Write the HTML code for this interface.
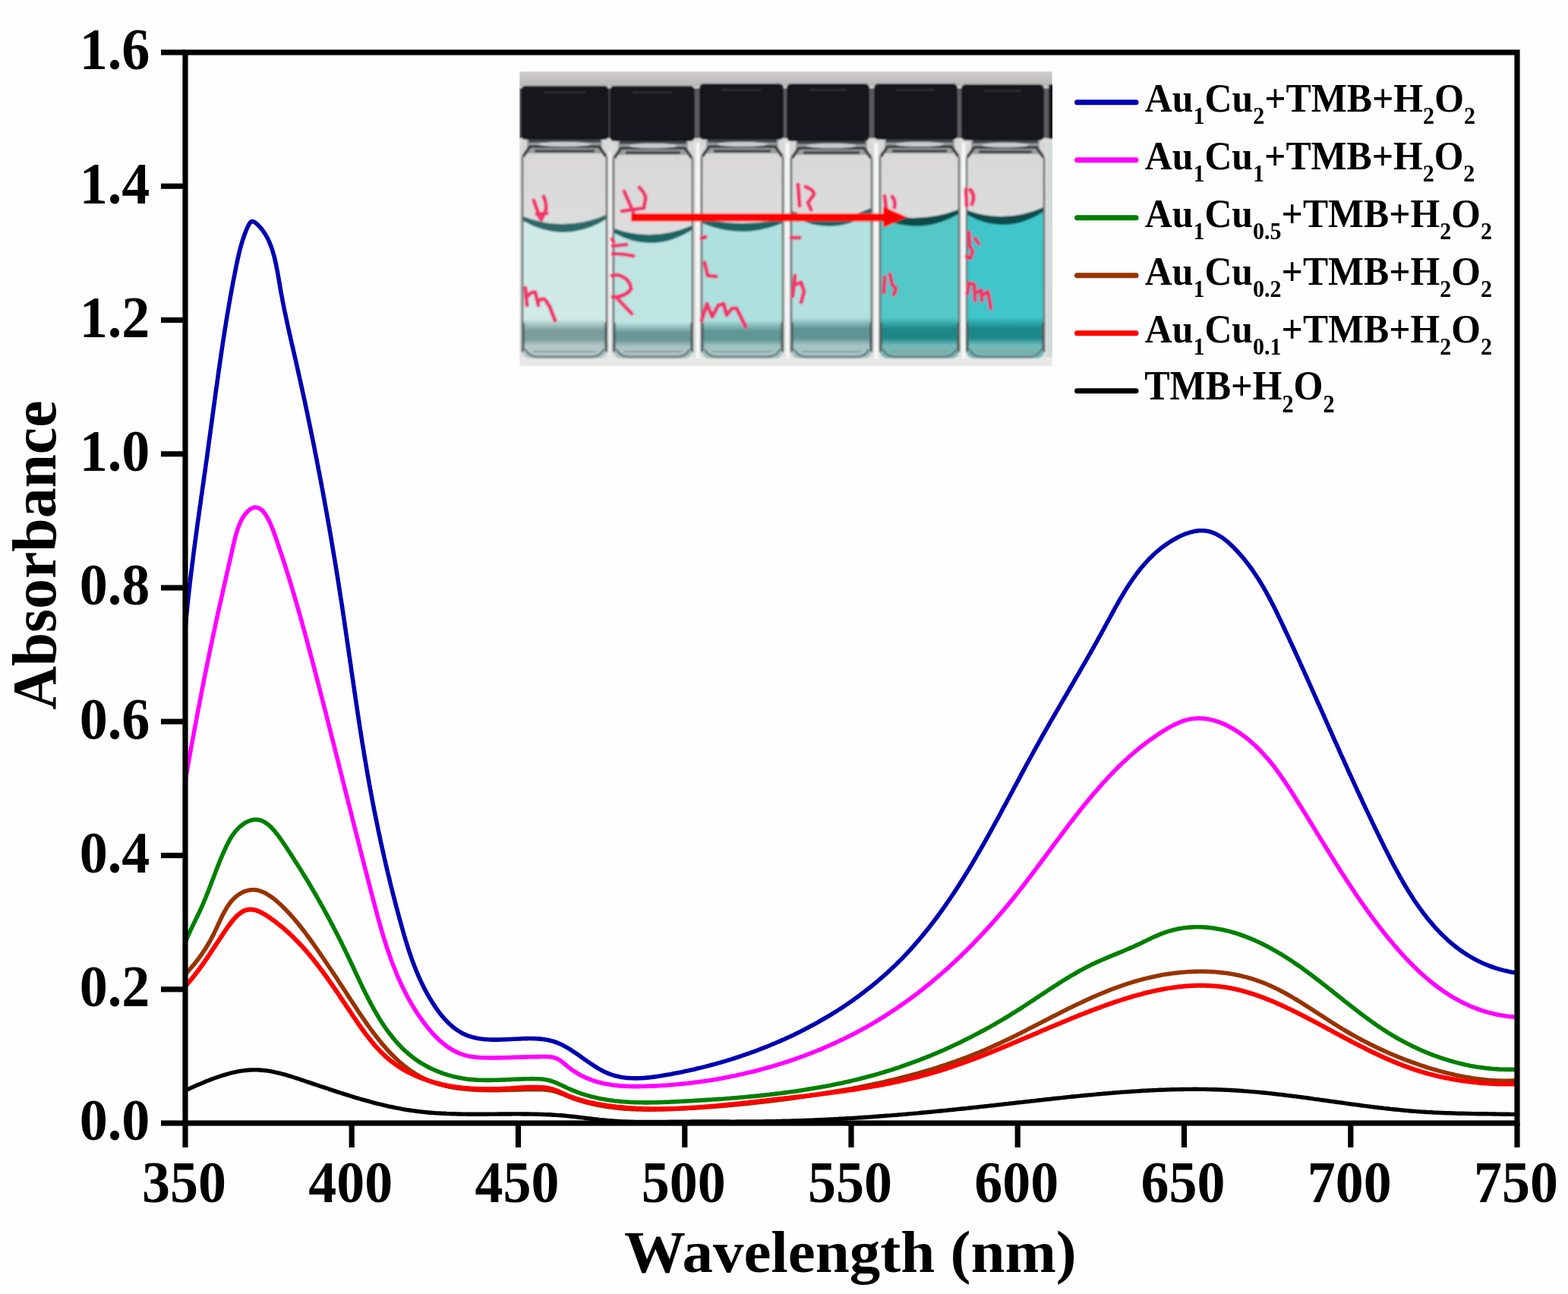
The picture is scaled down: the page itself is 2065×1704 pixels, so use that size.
<!DOCTYPE html><html><head><meta charset="utf-8"><title>Absorbance spectra</title>
<style>html,body{margin:0;padding:0;background:#fefefe;overflow:hidden}svg{display:block}text{font-family:"Liberation Serif","Times New Roman",serif;font-weight:bold;fill:#000}</style></head><body>
<svg width="2065" height="1704" viewBox="0 0 2065 1704">
<defs><filter id="soft" x="-2%" y="-2%" width="104%" height="104%"><feGaussianBlur stdDeviation="1.1"/></filter><filter id="soft2" x="-5%" y="-5%" width="110%" height="110%"><feGaussianBlur stdDeviation="2.2"/></filter><clipPath id="photoclip"><rect x="684" y="94" width="702" height="388"/></clipPath></defs>
<rect x="0" y="0" width="2065" height="1704" fill="#fefefe"/>
<defs>
<linearGradient id="lq0" x1="0" y1="0" x2="0" y2="1"><stop offset="0" stop-color="#d0eae8"/><stop offset="0.72" stop-color="#d0eae8"/><stop offset="0.80" stop-color="#7c9e9e"/><stop offset="0.86" stop-color="#7c9e9e"/><stop offset="0.91" stop-color="#b4c9c7"/><stop offset="1" stop-color="#b4c9c7"/></linearGradient>
<linearGradient id="lq1" x1="0" y1="0" x2="0" y2="1"><stop offset="0" stop-color="#bfe5e3"/><stop offset="0.72" stop-color="#bfe5e3"/><stop offset="0.80" stop-color="#6b9898"/><stop offset="0.86" stop-color="#6b9898"/><stop offset="0.91" stop-color="#aac5c3"/><stop offset="1" stop-color="#aac5c3"/></linearGradient>
<linearGradient id="lq2" x1="0" y1="0" x2="0" y2="1"><stop offset="0" stop-color="#aee0df"/><stop offset="0.72" stop-color="#aee0df"/><stop offset="0.80" stop-color="#5f9696"/><stop offset="0.86" stop-color="#5f9696"/><stop offset="0.91" stop-color="#a2c4c2"/><stop offset="1" stop-color="#a2c4c2"/></linearGradient>
<linearGradient id="lq3" x1="0" y1="0" x2="0" y2="1"><stop offset="0" stop-color="#b2e1e0"/><stop offset="0.72" stop-color="#b2e1e0"/><stop offset="0.80" stop-color="#5e9494"/><stop offset="0.86" stop-color="#5e9494"/><stop offset="0.91" stop-color="#a4c5c4"/><stop offset="1" stop-color="#a4c5c4"/></linearGradient>
<linearGradient id="lq4" x1="0" y1="0" x2="0" y2="1"><stop offset="0" stop-color="#52c8c7"/><stop offset="0.72" stop-color="#52c8c7"/><stop offset="0.80" stop-color="#1c8686"/><stop offset="0.86" stop-color="#1c8686"/><stop offset="0.91" stop-color="#74b8b7"/><stop offset="1" stop-color="#74b8b7"/></linearGradient>
<linearGradient id="lq5" x1="0" y1="0" x2="0" y2="1"><stop offset="0" stop-color="#40c6ca"/><stop offset="0.72" stop-color="#40c6ca"/><stop offset="0.80" stop-color="#1b888b"/><stop offset="0.86" stop-color="#1b888b"/><stop offset="0.91" stop-color="#70baba"/><stop offset="1" stop-color="#70baba"/></linearGradient>
<linearGradient id="air" x1="0" y1="0" x2="0" y2="1"><stop offset="0" stop-color="#d8d7d7"/><stop offset="1" stop-color="#e6e5e5"/></linearGradient>
<linearGradient id="topband" x1="0" y1="0" x2="0" y2="1"><stop offset="0" stop-color="#cfcdce"/><stop offset="1" stop-color="#b8b5b7"/></linearGradient>
</defs>
<g clip-path="url(#photoclip)"><g filter="url(#soft)">
<rect x="684" y="94" width="702" height="389" fill="#dddcdc"/>
<rect x="684" y="94" width="702" height="20" fill="url(#topband)"/>
<rect x="684" y="470" width="702" height="13" fill="#e8e8e6"/>
<rect x="684" y="116" width="702" height="66" fill="#5a5b5d"/>
<rect x="686" y="184" width="115" height="288" rx="8" fill="url(#air)"/>
<rect x="694" y="184" width="99" height="18" fill="#9a9e9e"/>
<rect x="696" y="184" width="95" height="4" fill="#43484a"/>
<path d="M689,206 L698,193 L789,193 L798,206" stroke="#3a4040" stroke-width="4" fill="none" stroke-linejoin="round"/>
<ellipse cx="743.5" cy="190" rx="35" ry="3.2" fill="#d0d4d4" opacity="0.9"/>
<rect x="704" y="197" width="79" height="4" fill="#2f3636" opacity="0.85"/>
<path d="M688,289 Q743.5,312 799,287 L799,462 Q799,472 787,472 L700,472 Q688,472 688,462 Z" fill="url(#lq0)"/>
<path d="M689,285 Q743.5,306 798,283 L798,289 Q743.5,322 689,291 Z" fill="#2a6a69"/>
<path d="M692,460 Q696,470 710,470 L777,470 Q791,470 795,460" stroke="#6f7f7f" stroke-width="3" fill="none"/>
<path d="M702,463 L785,463" stroke="#8b9b9b" stroke-width="2" fill="none"/>
<line x1="688" y1="206" x2="688" y2="464" stroke="#6a7070" stroke-width="2.6"/>
<line x1="799" y1="206" x2="799" y2="464" stroke="#6a7070" stroke-width="2.6"/>
<line x1="689" y1="425" x2="689" y2="462" stroke="#4c5858" stroke-width="4" opacity="0.7"/>
<line x1="798" y1="425" x2="798" y2="462" stroke="#4c5858" stroke-width="4" opacity="0.7"/>
<rect x="686" y="113" width="116" height="71" rx="6" fill="#18191b"/>
<rect x="716" y="120" width="56" height="3" fill="#2c2e30"/>
<rect x="806" y="186" width="108" height="286" rx="8" fill="url(#air)"/>
<rect x="814" y="186" width="92" height="18" fill="#9a9e9e"/>
<rect x="816" y="186" width="88" height="4" fill="#43484a"/>
<path d="M809,208 L818,195 L902,195 L911,208" stroke="#3a4040" stroke-width="4" fill="none" stroke-linejoin="round"/>
<ellipse cx="860.0" cy="192" rx="32" ry="3.2" fill="#d0d4d4" opacity="0.9"/>
<rect x="824" y="199" width="72" height="4" fill="#2f3636" opacity="0.85"/>
<path d="M808,305 Q860.0,325 912,301 L912,462 Q912,472 900,472 L820,472 Q808,472 808,462 Z" fill="url(#lq1)"/>
<path d="M809,301 Q860.0,319 911,297 L911,303 Q860.0,335 809,307 Z" fill="#1d6565"/>
<path d="M812,460 Q816,470 830,470 L890,470 Q904,470 908,460" stroke="#6f7f7f" stroke-width="3" fill="none"/>
<path d="M822,463 L898,463" stroke="#8b9b9b" stroke-width="2" fill="none"/>
<line x1="808" y1="208" x2="808" y2="464" stroke="#6a7070" stroke-width="2.6"/>
<line x1="912" y1="208" x2="912" y2="464" stroke="#6a7070" stroke-width="2.6"/>
<line x1="809" y1="425" x2="809" y2="462" stroke="#4c5858" stroke-width="4" opacity="0.7"/>
<line x1="911" y1="425" x2="911" y2="462" stroke="#4c5858" stroke-width="4" opacity="0.7"/>
<rect x="803" y="113" width="112" height="73" rx="6" fill="#18191b"/>
<rect x="833" y="120" width="52" height="3" fill="#2c2e30"/>
<rect x="922" y="184" width="111" height="288" rx="8" fill="url(#air)"/>
<rect x="930" y="184" width="95" height="18" fill="#9a9e9e"/>
<rect x="932" y="184" width="91" height="4" fill="#43484a"/>
<path d="M925,206 L934,193 L1021,193 L1030,206" stroke="#3a4040" stroke-width="4" fill="none" stroke-linejoin="round"/>
<ellipse cx="977.5" cy="190" rx="33" ry="3.2" fill="#d0d4d4" opacity="0.9"/>
<rect x="940" y="197" width="75" height="4" fill="#2f3636" opacity="0.85"/>
<path d="M924,292 Q977.5,306 1031,292 L1031,462 Q1031,472 1019,472 L936,472 Q924,472 924,462 Z" fill="url(#lq2)"/>
<path d="M925,288 Q977.5,300 1030,288 L1030,294 Q977.5,316 925,294 Z" fill="#1d6464"/>
<path d="M928,460 Q932,470 946,470 L1009,470 Q1023,470 1027,460" stroke="#6f7f7f" stroke-width="3" fill="none"/>
<path d="M938,463 L1017,463" stroke="#8b9b9b" stroke-width="2" fill="none"/>
<line x1="924" y1="206" x2="924" y2="464" stroke="#6a7070" stroke-width="2.6"/>
<line x1="1031" y1="206" x2="1031" y2="464" stroke="#6a7070" stroke-width="2.6"/>
<line x1="925" y1="425" x2="925" y2="462" stroke="#4c5858" stroke-width="4" opacity="0.7"/>
<line x1="1030" y1="425" x2="1030" y2="462" stroke="#4c5858" stroke-width="4" opacity="0.7"/>
<rect x="921" y="110" width="111" height="74" rx="6" fill="#18191b"/>
<rect x="951" y="117" width="51" height="3" fill="#2c2e30"/>
<rect x="1040" y="186" width="110" height="286" rx="8" fill="url(#air)"/>
<rect x="1048" y="186" width="94" height="18" fill="#9a9e9e"/>
<rect x="1050" y="186" width="90" height="4" fill="#43484a"/>
<path d="M1043,208 L1052,195 L1138,195 L1147,208" stroke="#3a4040" stroke-width="4" fill="none" stroke-linejoin="round"/>
<ellipse cx="1095.0" cy="192" rx="33" ry="3.2" fill="#d0d4d4" opacity="0.9"/>
<rect x="1058" y="199" width="74" height="4" fill="#2f3636" opacity="0.85"/>
<path d="M1042,282 Q1095.0,304 1148,278 L1148,462 Q1148,472 1136,472 L1054,472 Q1042,472 1042,462 Z" fill="url(#lq3)"/>
<path d="M1043,278 Q1095.0,298 1147,274 L1147,280 Q1095.0,314 1043,284 Z" fill="#1c6363"/>
<path d="M1046,460 Q1050,470 1064,470 L1126,470 Q1140,470 1144,460" stroke="#6f7f7f" stroke-width="3" fill="none"/>
<path d="M1056,463 L1134,463" stroke="#8b9b9b" stroke-width="2" fill="none"/>
<line x1="1042" y1="208" x2="1042" y2="464" stroke="#6a7070" stroke-width="2.6"/>
<line x1="1148" y1="208" x2="1148" y2="464" stroke="#6a7070" stroke-width="2.6"/>
<line x1="1043" y1="425" x2="1043" y2="462" stroke="#4c5858" stroke-width="4" opacity="0.7"/>
<line x1="1147" y1="425" x2="1147" y2="462" stroke="#4c5858" stroke-width="4" opacity="0.7"/>
<rect x="1036" y="110" width="109" height="76" rx="6" fill="#18191b"/>
<rect x="1066" y="117" width="49" height="3" fill="#2c2e30"/>
<rect x="1157" y="184" width="108" height="288" rx="8" fill="url(#air)"/>
<rect x="1165" y="184" width="92" height="18" fill="#9a9e9e"/>
<rect x="1167" y="184" width="88" height="4" fill="#43484a"/>
<path d="M1160,206 L1169,193 L1253,193 L1262,206" stroke="#3a4040" stroke-width="4" fill="none" stroke-linejoin="round"/>
<ellipse cx="1211.0" cy="190" rx="32" ry="3.2" fill="#d0d4d4" opacity="0.9"/>
<rect x="1175" y="197" width="72" height="4" fill="#2f3636" opacity="0.85"/>
<path d="M1159,285 Q1211.0,301 1263,280 L1263,462 Q1263,472 1251,472 L1171,472 Q1159,472 1159,462 Z" fill="url(#lq4)"/>
<path d="M1160,281 Q1211.0,295 1262,276 L1262,282 Q1211.0,311 1160,287 Z" fill="#074c4c"/>
<path d="M1163,460 Q1167,470 1181,470 L1241,470 Q1255,470 1259,460" stroke="#6f7f7f" stroke-width="3" fill="none"/>
<path d="M1173,463 L1249,463" stroke="#8b9b9b" stroke-width="2" fill="none"/>
<line x1="1159" y1="206" x2="1159" y2="464" stroke="#6a7070" stroke-width="2.6"/>
<line x1="1263" y1="206" x2="1263" y2="464" stroke="#6a7070" stroke-width="2.6"/>
<line x1="1160" y1="425" x2="1160" y2="462" stroke="#4c5858" stroke-width="4" opacity="0.7"/>
<line x1="1262" y1="425" x2="1262" y2="462" stroke="#4c5858" stroke-width="4" opacity="0.7"/>
<rect x="1151" y="110" width="110" height="74" rx="6" fill="#18191b"/>
<rect x="1181" y="117" width="50" height="3" fill="#2c2e30"/>
<rect x="1271" y="185" width="106" height="287" rx="8" fill="url(#air)"/>
<rect x="1279" y="185" width="90" height="18" fill="#9a9e9e"/>
<rect x="1281" y="185" width="86" height="4" fill="#43484a"/>
<path d="M1274,207 L1283,194 L1365,194 L1374,207" stroke="#3a4040" stroke-width="4" fill="none" stroke-linejoin="round"/>
<ellipse cx="1324.0" cy="191" rx="31" ry="3.2" fill="#d0d4d4" opacity="0.9"/>
<rect x="1289" y="198" width="70" height="4" fill="#2f3636" opacity="0.85"/>
<path d="M1273,281 Q1324.0,301 1375,277 L1375,462 Q1375,472 1363,472 L1285,472 Q1273,472 1273,462 Z" fill="url(#lq5)"/>
<path d="M1274,277 Q1324.0,295 1374,273 L1374,279 Q1324.0,311 1274,283 Z" fill="#074c4e"/>
<path d="M1277,460 Q1281,470 1295,470 L1353,470 Q1367,470 1371,460" stroke="#6f7f7f" stroke-width="3" fill="none"/>
<path d="M1287,463 L1361,463" stroke="#8b9b9b" stroke-width="2" fill="none"/>
<line x1="1273" y1="207" x2="1273" y2="464" stroke="#6a7070" stroke-width="2.6"/>
<line x1="1375" y1="207" x2="1375" y2="464" stroke="#6a7070" stroke-width="2.6"/>
<line x1="1274" y1="425" x2="1274" y2="462" stroke="#4c5858" stroke-width="4" opacity="0.7"/>
<line x1="1374" y1="425" x2="1374" y2="462" stroke="#4c5858" stroke-width="4" opacity="0.7"/>
<rect x="1266" y="111" width="109" height="74" rx="6" fill="#18191b"/>
<rect x="1296" y="118" width="49" height="3" fill="#2c2e30"/>
<rect x="916.5" y="188" width="5" height="284" fill="#f6f7f7"/>
<rect x="1034.5" y="188" width="5" height="284" fill="#f6f7f7"/>
<rect x="1151.5" y="188" width="5" height="284" fill="#f6f7f7"/>
<rect x="1266.5" y="188" width="5" height="284" fill="#f6f7f7"/>
<rect x="801.5" y="200" width="3.5" height="270" fill="#eef0f0"/>
<rect x="1381" y="111" width="8" height="72" fill="#18191b"/>
<rect x="1380" y="186" width="7" height="284" fill="#cfdad9"/>
<path d="M703,264 L711,287 M716,259 Q720,268 719,276 L713,289 M707,282 L720,281" stroke="#f0346c" stroke-width="5.2" fill="none" stroke-linecap="round" stroke-linejoin="round"/>
<path d="M692,379 L694,402 M695,390 Q700,383 705,385 L709,402 M710,396 Q715,391 719,396 L724,404 L731,422" stroke="#f0346c" stroke-width="5.2" fill="none" stroke-linecap="round" stroke-linejoin="round"/>
<path d="M822,252 L834,279 M842,247 Q851,256 850,262 L848,273 M819,278 L848,274" stroke="#f0346c" stroke-width="5.2" fill="none" stroke-linecap="round" stroke-linejoin="round"/>
<path d="M806,315 L808,318 M807,324 L825,322 M807,334 Q820,334 834,337" stroke="#f0346c" stroke-width="5.2" fill="none" stroke-linecap="round" stroke-linejoin="round"/>
<path d="M806,363 L813,362 Q830,366 831,381 Q822,392 807,391 M813,393 L832,413" stroke="#f0346c" stroke-width="5.2" fill="none" stroke-linecap="round" stroke-linejoin="round"/>
<path d="M924,314 L929,312" stroke="#f0346c" stroke-width="5.2" fill="none" stroke-linecap="round" stroke-linejoin="round"/>
<path d="M928,346 L932,363 L943,364" stroke="#f0346c" stroke-width="5.2" fill="none" stroke-linecap="round" stroke-linejoin="round"/>
<path d="M924,422 L931,400 L938,417 L946,402 L953,400 L957,415 L964,406 L970,406 L976,418 L982,430" stroke="#f0346c" stroke-width="5.2" fill="none" stroke-linecap="round" stroke-linejoin="round"/>
<path d="M1051,243 L1053,271 M1061,246 Q1072,250 1072,256 L1064,267 L1068,276" stroke="#f0346c" stroke-width="5.2" fill="none" stroke-linecap="round" stroke-linejoin="round"/>
<path d="M1042,313 L1053,313" stroke="#f0346c" stroke-width="5.2" fill="none" stroke-linecap="round" stroke-linejoin="round"/>
<path d="M1047,363 L1044,390 M1047,375 L1055,372 L1059,384 L1055,398" stroke="#f0346c" stroke-width="5.2" fill="none" stroke-linecap="round" stroke-linejoin="round"/>
<path d="M1165,258 L1167,274 M1175,259 Q1180,265 1178,273" stroke="#f0346c" stroke-width="5.2" fill="none" stroke-linecap="round" stroke-linejoin="round"/>
<path d="M1164,385 L1165,365 M1172,361 L1175,375 L1180,380 L1177,388" stroke="#f0346c" stroke-width="5.2" fill="none" stroke-linecap="round" stroke-linejoin="round"/>
<path d="M1272,249 L1273,271 M1278,250 Q1285,258 1280,269" stroke="#f0346c" stroke-width="5.2" fill="none" stroke-linecap="round" stroke-linejoin="round"/>
<path d="M1276,306 L1277,324 L1281,331 L1278,340 L1273,338 M1284,314 L1289,321" stroke="#f0346c" stroke-width="5.2" fill="none" stroke-linecap="round" stroke-linejoin="round"/>
<path d="M1274,387 L1276,373 L1283,374 L1284,396 M1285,386 L1292,382 L1293,396 M1294,389 L1301,384 L1305,406" stroke="#f0346c" stroke-width="5.2" fill="none" stroke-linecap="round" stroke-linejoin="round"/>
<rect x="831" y="281" width="334" height="10.5" fill="#ff0000"/>
<path d="M1163,272 L1195,286 L1163,300 Z" fill="#ff0000"/>
</g></g>
<g fill="none" stroke-linejoin="round" stroke-linecap="butt">
<path id="c_blue" d="M244.0,828.0 L244.3,825.0 L244.5,822.1 L244.8,819.1 L245.1,816.2 L245.3,813.2 L245.6,810.2 L245.9,807.3 L246.2,804.3 L246.5,801.3 L246.8,798.4 L247.1,795.4 L247.4,792.4 L247.7,789.5 L248.0,786.5 L248.4,783.5 L248.7,780.5 L249.0,777.6 L249.4,774.6 L249.7,771.6 L250.0,768.6 L250.4,765.6 L250.7,762.7 L251.1,759.7 L251.5,756.7 L251.8,753.7 L252.2,750.7 L252.6,747.8 L252.9,744.8 L253.3,741.8 L253.7,738.8 L254.1,735.8 L254.4,732.8 L254.8,729.8 L255.2,726.9 L255.6,723.9 L256.0,720.9 L256.4,717.9 L256.8,714.9 L257.2,711.9 L257.6,708.9 L258.0,705.9 L258.4,703.0 L258.8,700.0 L259.2,697.0 L259.6,694.0 L260.0,691.0 L260.4,688.0 L260.8,685.0 L261.3,682.0 L261.7,679.1 L262.1,676.1 L262.5,673.1 L262.9,670.1 L263.3,667.1 L263.8,664.1 L264.2,661.2 L264.6,658.2 L265.0,655.2 L265.4,652.2 L265.9,649.2 L266.3,646.2 L266.7,643.3 L267.1,640.3 L267.6,637.3 L268.0,634.3 L268.4,631.4 L268.8,628.4 L269.2,625.4 L269.7,622.4 L270.1,619.5 L270.5,616.5 L270.9,613.5 L271.3,610.5 L271.7,607.6 L272.2,604.6 L272.6,601.7 L273.0,598.7 L273.4,595.7 L273.8,592.8 L274.2,589.8 L274.6,586.8 L275.0,583.9 L275.4,580.9 L275.8,578.0 L276.2,575.0 L276.6,572.1 L277.0,569.1 L277.4,566.2 L277.8,563.2 L278.2,560.3 L278.6,557.3 L279.0,554.4 L279.4,551.4 L279.8,548.5 L280.2,545.5 L280.6,542.6 L281.0,539.6 L281.4,536.7 L281.8,533.8 L282.2,530.8 L282.6,527.9 L283.0,524.9 L283.4,522.0 L283.8,519.0 L284.2,516.1 L284.6,513.1 L285.0,510.2 L285.5,507.3 L285.9,504.3 L286.3,501.4 L286.7,498.4 L287.1,495.5 L287.5,492.5 L287.9,489.6 L288.3,486.6 L288.8,483.7 L289.2,480.7 L289.6,477.8 L290.0,474.8 L290.5,471.9 L290.9,468.9 L291.3,465.9 L291.8,463.0 L292.2,460.0 L292.6,457.1 L293.1,454.1 L293.5,451.1 L294.0,448.2 L294.4,445.2 L294.9,442.2 L295.4,439.3 L295.8,436.3 L296.3,433.3 L296.8,430.3 L297.3,427.4 L297.7,424.4 L298.2,421.4 L298.7,418.4 L299.2,415.4 L299.7,412.4 L300.2,409.4 L300.7,406.4 L301.2,403.4 L301.7,400.4 L302.3,397.4 L302.8,394.4 L303.3,391.4 L303.9,388.4 L304.4,385.4 L305.0,382.4 L305.5,379.4 L306.1,376.3 L306.6,373.3 L307.2,370.3 L307.8,367.2 L308.4,364.2 L309.0,361.2 L309.6,358.1 L310.2,355.1 L310.8,352.0 L311.4,349.0 L312.0,346.0 L312.7,343.0 L313.3,340.0 L314.0,337.0 L314.7,334.0 L315.4,331.1 L316.1,328.2 L316.9,325.4 L317.7,322.5 L318.5,319.8 L319.3,317.0 L320.2,314.3 L321.1,311.7 L322.0,309.1 L322.9,306.6 L323.9,304.1 L324.9,301.7 L325.9,299.4 L327.0,297.1 L328.2,295.0 L329.4,293.2 L330.8,292.0 L332.4,291.5 L334.3,291.9 L336.3,293.3 L338.5,295.1 L340.5,297.1 L342.4,299.1 L344.3,301.3 L346.0,303.5 L347.6,305.8 L349.2,308.2 L350.6,310.6 L352.0,313.1 L353.3,315.7 L354.5,318.3 L355.6,321.0 L356.7,323.7 L357.7,326.5 L358.7,329.4 L359.5,332.2 L360.4,335.2 L361.2,338.1 L361.9,341.1 L362.6,344.1 L363.3,347.1 L363.9,350.2 L364.5,353.2 L365.1,356.3 L365.7,359.4 L366.2,362.5 L366.8,365.6 L367.3,368.7 L367.8,371.9 L368.4,375.0 L368.9,378.0 L369.4,381.1 L370.0,384.2 L370.5,387.2 L371.1,390.3 L371.7,393.3 L372.2,396.3 L372.8,399.3 L373.4,402.3 L374.0,405.3 L374.6,408.3 L375.2,411.3 L375.9,414.2 L376.5,417.2 L377.1,420.1 L377.7,423.0 L378.4,426.0 L379.0,428.9 L379.7,431.8 L380.3,434.7 L380.9,437.6 L381.6,440.5 L382.3,443.4 L382.9,446.3 L383.6,449.2 L384.2,452.1 L384.9,455.0 L385.6,457.9 L386.2,460.7 L386.9,463.6 L387.5,466.5 L388.2,469.4 L388.9,472.3 L389.5,475.2 L390.2,478.0 L390.8,480.9 L391.5,483.8 L392.1,486.7 L392.8,489.6 L393.4,492.5 L394.1,495.4 L394.7,498.3 L395.4,501.2 L396.0,504.1 L396.6,507.0 L397.3,509.9 L397.9,512.8 L398.5,515.7 L399.2,518.6 L399.8,521.5 L400.4,524.4 L401.1,527.3 L401.7,530.2 L402.3,533.1 L402.9,536.1 L403.5,539.0 L404.2,541.9 L404.8,544.8 L405.4,547.7 L406.0,550.7 L406.6,553.6 L407.2,556.5 L407.8,559.4 L408.4,562.4 L409.0,565.3 L409.6,568.2 L410.2,571.1 L410.8,574.1 L411.4,577.0 L412.0,579.9 L412.6,582.9 L413.2,585.8 L413.8,588.8 L414.4,591.7 L414.9,594.6 L415.5,597.6 L416.1,600.5 L416.7,603.5 L417.3,606.4 L417.8,609.3 L418.4,612.3 L419.0,615.2 L419.5,618.2 L420.1,621.1 L420.7,624.1 L421.2,627.0 L421.8,630.0 L422.4,632.9 L422.9,635.9 L423.5,638.8 L424.0,641.8 L424.6,644.8 L425.1,647.7 L425.7,650.7 L426.2,653.6 L426.8,656.6 L427.3,659.5 L427.8,662.5 L428.4,665.5 L428.9,668.4 L429.4,671.4 L430.0,674.3 L430.5,677.3 L431.0,680.3 L431.6,683.2 L432.1,686.2 L432.6,689.2 L433.1,692.1 L433.7,695.1 L434.2,698.1 L434.7,701.0 L435.2,704.0 L435.7,707.0 L436.2,709.9 L436.7,712.9 L437.2,715.9 L437.7,718.8 L438.2,721.8 L438.7,724.8 L439.2,727.7 L439.7,730.7 L440.2,733.7 L440.7,736.6 L441.2,739.6 L441.7,742.6 L442.2,745.5 L442.6,748.5 L443.1,751.5 L443.6,754.4 L444.1,757.4 L444.6,760.4 L445.0,763.3 L445.5,766.3 L446.0,769.3 L446.4,772.3 L446.9,775.2 L447.4,778.2 L447.8,781.2 L448.3,784.1 L448.7,787.1 L449.2,790.1 L449.7,793.0 L450.1,796.0 L450.6,799.0 L451.0,801.9 L451.5,804.9 L451.9,807.9 L452.3,810.8 L452.8,813.8 L453.2,816.8 L453.7,819.7 L454.1,822.7 L454.5,825.7 L455.0,828.6 L455.4,831.6 L455.8,834.6 L456.3,837.5 L456.7,840.5 L457.1,843.4 L457.6,846.4 L458.0,849.4 L458.4,852.3 L458.9,855.3 L459.3,858.3 L459.7,861.2 L460.1,864.2 L460.6,867.2 L461.0,870.1 L461.4,873.1 L461.9,876.0 L462.3,879.0 L462.7,882.0 L463.1,884.9 L463.6,887.9 L464.0,890.8 L464.4,893.8 L464.9,896.8 L465.3,899.7 L465.7,902.7 L466.2,905.7 L466.6,908.6 L467.0,911.6 L467.5,914.5 L467.9,917.5 L468.3,920.4 L468.8,923.4 L469.2,926.4 L469.7,929.3 L470.1,932.3 L470.5,935.2 L471.0,938.2 L471.4,941.2 L471.9,944.1 L472.3,947.1 L472.8,950.0 L473.2,953.0 L473.7,955.9 L474.1,958.9 L474.6,961.9 L475.1,964.8 L475.5,967.8 L476.0,970.7 L476.5,973.7 L476.9,976.6 L477.4,979.6 L477.9,982.5 L478.4,985.5 L478.9,988.4 L479.3,991.4 L479.8,994.4 L480.3,997.3 L480.8,1000.3 L481.3,1003.2 L481.8,1006.2 L482.3,1009.1 L482.8,1012.1 L483.3,1015.0 L483.8,1018.0 L484.3,1020.9 L484.9,1023.9 L485.4,1026.8 L485.9,1029.8 L486.4,1032.7 L487.0,1035.7 L487.5,1038.6 L488.1,1041.6 L488.6,1044.5 L489.2,1047.5 L489.7,1050.4 L490.3,1053.4 L490.8,1056.3 L491.4,1059.3 L492.0,1062.2 L492.5,1065.2 L493.1,1068.1 L493.7,1071.1 L494.3,1074.0 L494.9,1077.0 L495.5,1079.9 L496.1,1082.8 L496.7,1085.8 L497.3,1088.7 L497.9,1091.7 L498.5,1094.6 L499.1,1097.5 L499.8,1100.5 L500.4,1103.4 L501.0,1106.4 L501.6,1109.3 L502.3,1112.2 L502.9,1115.2 L503.6,1118.1 L504.2,1121.0 L504.9,1124.0 L505.6,1126.9 L506.2,1129.8 L506.9,1132.8 L507.6,1135.7 L508.2,1138.6 L508.9,1141.5 L509.6,1144.5 L510.3,1147.4 L511.0,1150.3 L511.7,1153.2 L512.4,1156.1 L513.1,1159.0 L513.8,1162.0 L514.5,1164.9 L515.2,1167.8 L516.0,1170.7 L516.7,1173.6 L517.4,1176.5 L518.2,1179.4 L518.9,1182.3 L519.7,1185.2 L520.4,1188.1 L521.2,1191.0 L521.9,1193.9 L522.7,1196.8 L523.5,1199.7 L524.2,1202.6 L525.0,1205.5 L525.8,1208.4 L526.6,1211.2 L527.4,1214.1 L528.2,1217.0 L529.0,1219.9 L529.8,1222.8 L530.6,1225.6 L531.4,1228.5 L532.2,1231.4 L533.1,1234.2 L533.9,1237.1 L534.8,1239.9 L535.7,1242.8 L536.5,1245.6 L537.4,1248.5 L538.4,1251.3 L539.3,1254.1 L540.3,1257.0 L541.2,1259.8 L542.2,1262.6 L543.2,1265.4 L544.3,1268.2 L545.3,1271.0 L546.4,1273.8 L547.5,1276.6 L548.6,1279.4 L549.8,1282.1 L551.0,1284.9 L552.2,1287.6 L553.4,1290.4 L554.7,1293.1 L556.0,1295.8 L557.3,1298.5 L558.7,1301.3 L560.1,1303.9 L561.5,1306.6 L563.0,1309.3 L564.5,1312.0 L566.1,1314.6 L567.7,1317.3 L569.3,1319.9 L571.0,1322.5 L572.7,1325.1 L574.4,1327.7 L576.2,1330.2 L578.0,1332.6 L579.9,1335.1 L581.8,1337.5 L583.8,1339.8 L585.8,1342.1 L587.9,1344.3 L590.0,1346.4 L592.1,1348.5 L594.3,1350.4 L596.5,1352.3 L598.8,1354.1 L601.2,1355.9 L603.6,1357.5 L606.0,1359.0 L608.5,1360.4 L611.0,1361.7 L613.6,1362.8 L616.2,1363.9 L618.9,1364.8 L621.7,1365.6 L624.4,1366.3 L627.2,1367.0 L630.1,1367.5 L633.0,1367.9 L635.9,1368.3 L638.9,1368.6 L641.8,1368.8 L644.8,1369.0 L647.8,1369.1 L650.9,1369.1 L653.9,1369.1 L657.0,1369.1 L660.1,1369.0 L663.2,1368.9 L666.3,1368.8 L669.4,1368.6 L672.5,1368.5 L675.6,1368.3 L678.6,1368.2 L681.7,1368.0 L684.8,1367.9 L687.8,1367.7 L690.9,1367.6 L693.9,1367.6 L696.9,1367.5 L699.9,1367.5 L702.8,1367.6 L705.7,1367.7 L708.6,1367.9 L711.5,1368.1 L714.3,1368.4 L717.1,1368.8 L719.9,1369.2 L722.7,1369.8 L725.4,1370.4 L728.1,1371.2 L730.8,1372.0 L733.5,1373.0 L736.2,1374.1 L738.8,1375.3 L741.4,1376.6 L744.0,1377.9 L746.6,1379.4 L749.1,1380.9 L751.7,1382.5 L754.2,1384.2 L756.8,1385.8 L759.3,1387.6 L761.8,1389.3 L764.4,1391.1 L766.9,1392.9 L769.4,1394.7 L772.0,1396.5 L774.5,1398.2 L777.0,1400.0 L779.6,1401.7 L782.1,1403.4 L784.7,1405.0 L787.3,1406.6 L789.9,1408.1 L792.5,1409.5 L795.2,1410.9 L797.8,1412.2 L800.5,1413.3 L803.2,1414.4 L805.9,1415.3 L808.7,1416.2 L811.5,1417.0 L814.3,1417.6 L817.1,1418.2 L819.9,1418.7 L822.8,1419.1 L825.6,1419.4 L828.5,1419.6 L831.4,1419.8 L834.3,1419.9 L837.2,1419.9 L840.2,1419.9 L843.1,1419.8 L846.1,1419.6 L849.0,1419.4 L852.0,1419.1 L855.0,1418.9 L858.0,1418.5 L861.0,1418.1 L864.0,1417.7 L867.0,1417.3 L870.0,1416.8 L873.0,1416.3 L876.0,1415.8 L879.0,1415.3 L882.0,1414.8 L885.0,1414.2 L888.0,1413.6 L890.9,1413.1 L893.9,1412.5 L896.9,1411.9 L899.9,1411.3 L902.9,1410.6 L905.9,1410.0 L908.8,1409.3 L911.8,1408.7 L914.8,1408.0 L917.7,1407.3 L920.7,1406.6 L923.6,1405.9 L926.6,1405.1 L929.5,1404.4 L932.5,1403.6 L935.4,1402.8 L938.4,1402.1 L941.3,1401.3 L944.2,1400.4 L947.2,1399.6 L950.1,1398.8 L953.0,1397.9 L955.9,1397.1 L958.8,1396.2 L961.7,1395.3 L964.6,1394.4 L967.5,1393.5 L970.4,1392.5 L973.3,1391.6 L976.1,1390.6 L979.0,1389.7 L981.9,1388.7 L984.7,1387.7 L987.6,1386.7 L990.4,1385.7 L993.3,1384.6 L996.1,1383.6 L998.9,1382.5 L1001.7,1381.4 L1004.6,1380.3 L1007.4,1379.2 L1010.2,1378.1 L1013.0,1377.0 L1015.8,1375.8 L1018.5,1374.7 L1021.3,1373.5 L1024.1,1372.3 L1026.9,1371.1 L1029.6,1369.9 L1032.4,1368.7 L1035.1,1367.4 L1037.8,1366.2 L1040.5,1364.9 L1043.3,1363.7 L1046.0,1362.4 L1048.7,1361.1 L1051.4,1359.7 L1054.1,1358.4 L1056.7,1357.1 L1059.4,1355.7 L1062.1,1354.3 L1064.7,1352.9 L1067.3,1351.5 L1070.0,1350.1 L1072.6,1348.7 L1075.2,1347.2 L1077.8,1345.8 L1080.4,1344.3 L1083.0,1342.8 L1085.6,1341.3 L1088.2,1339.8 L1090.7,1338.3 L1093.3,1336.8 L1095.8,1335.2 L1098.3,1333.7 L1100.9,1332.1 L1103.4,1330.5 L1105.9,1328.9 L1108.4,1327.3 L1110.8,1325.6 L1113.3,1324.0 L1115.8,1322.3 L1118.2,1320.6 L1120.7,1319.0 L1123.1,1317.2 L1125.5,1315.5 L1127.9,1313.8 L1130.3,1312.1 L1132.7,1310.3 L1135.0,1308.5 L1137.4,1306.7 L1139.7,1304.9 L1142.1,1303.1 L1144.4,1301.3 L1146.7,1299.5 L1149.0,1297.6 L1151.3,1295.7 L1153.6,1293.9 L1155.8,1292.0 L1158.1,1290.0 L1160.3,1288.1 L1162.6,1286.2 L1164.8,1284.2 L1167.0,1282.3 L1169.2,1280.3 L1171.3,1278.3 L1173.5,1276.3 L1175.6,1274.3 L1177.8,1272.2 L1179.9,1270.2 L1182.0,1268.1 L1184.1,1266.0 L1186.2,1263.9 L1188.3,1261.8 L1190.3,1259.7 L1192.4,1257.6 L1194.4,1255.4 L1196.4,1253.2 L1198.4,1251.1 L1200.4,1248.9 L1202.4,1246.7 L1204.3,1244.5 L1206.3,1242.2 L1208.2,1240.0 L1210.1,1237.8 L1212.0,1235.5 L1213.9,1233.2 L1215.8,1230.9 L1217.7,1228.6 L1219.6,1226.3 L1221.4,1224.0 L1223.3,1221.7 L1225.1,1219.3 L1226.9,1217.0 L1228.8,1214.6 L1230.6,1212.2 L1232.4,1209.8 L1234.1,1207.5 L1235.9,1205.0 L1237.7,1202.6 L1239.4,1200.2 L1241.2,1197.8 L1242.9,1195.3 L1244.6,1192.9 L1246.3,1190.4 L1248.0,1188.0 L1249.7,1185.5 L1251.4,1183.0 L1253.1,1180.5 L1254.8,1178.0 L1256.4,1175.5 L1258.1,1173.0 L1259.7,1170.5 L1261.4,1167.9 L1263.0,1165.4 L1264.6,1162.8 L1266.2,1160.3 L1267.8,1157.7 L1269.4,1155.2 L1271.0,1152.6 L1272.6,1150.0 L1274.2,1147.4 L1275.8,1144.9 L1277.3,1142.3 L1278.9,1139.7 L1280.5,1137.1 L1282.0,1134.5 L1283.5,1131.8 L1285.1,1129.2 L1286.6,1126.6 L1288.1,1124.0 L1289.7,1121.3 L1291.2,1118.7 L1292.7,1116.1 L1294.2,1113.4 L1295.7,1110.8 L1297.2,1108.1 L1298.7,1105.5 L1300.2,1102.8 L1301.7,1100.2 L1303.1,1097.5 L1304.6,1094.8 L1306.1,1092.2 L1307.6,1089.5 L1309.0,1086.8 L1310.5,1084.2 L1311.9,1081.5 L1313.4,1078.8 L1314.9,1076.1 L1316.3,1073.5 L1317.8,1070.8 L1319.2,1068.1 L1320.6,1065.4 L1322.1,1062.7 L1323.5,1060.1 L1325.0,1057.4 L1326.4,1054.7 L1327.8,1052.0 L1329.3,1049.3 L1330.7,1046.7 L1332.1,1044.0 L1333.6,1041.3 L1335.0,1038.6 L1336.4,1035.9 L1337.8,1033.3 L1339.3,1030.6 L1340.7,1027.9 L1342.1,1025.3 L1343.6,1022.6 L1345.0,1019.9 L1346.4,1017.3 L1347.8,1014.6 L1349.3,1012.0 L1350.7,1009.3 L1352.1,1006.7 L1353.6,1004.0 L1355.0,1001.4 L1356.4,998.7 L1357.9,996.1 L1359.3,993.5 L1360.8,990.8 L1362.2,988.2 L1363.7,985.6 L1365.1,983.0 L1366.6,980.4 L1368.0,977.8 L1369.5,975.2 L1370.9,972.6 L1372.4,970.0 L1373.8,967.4 L1375.3,964.8 L1376.8,962.2 L1378.2,959.7 L1379.7,957.1 L1381.2,954.5 L1382.6,952.0 L1384.1,949.4 L1385.6,946.8 L1387.1,944.3 L1388.5,941.7 L1390.0,939.2 L1391.5,936.6 L1393.0,934.1 L1394.5,931.5 L1395.9,929.0 L1397.4,926.4 L1398.9,923.9 L1400.4,921.3 L1401.9,918.8 L1403.4,916.2 L1404.9,913.7 L1406.3,911.1 L1407.8,908.6 L1409.3,906.0 L1410.8,903.5 L1412.3,900.9 L1413.8,898.4 L1415.2,895.8 L1416.7,893.3 L1418.2,890.7 L1419.7,888.1 L1421.2,885.6 L1422.7,883.0 L1424.1,880.4 L1425.6,877.9 L1427.1,875.3 L1428.6,872.7 L1430.1,870.2 L1431.5,867.6 L1433.0,865.0 L1434.5,862.4 L1436.0,859.8 L1437.4,857.2 L1438.9,854.6 L1440.4,852.0 L1441.8,849.4 L1443.3,846.8 L1444.8,844.2 L1446.2,841.5 L1447.7,838.9 L1449.1,836.3 L1450.6,833.6 L1452.0,831.0 L1453.5,828.3 L1454.9,825.7 L1456.4,823.0 L1457.8,820.3 L1459.3,817.7 L1460.7,815.0 L1462.2,812.3 L1463.6,809.6 L1465.1,806.9 L1466.5,804.3 L1468.0,801.6 L1469.5,798.9 L1471.0,796.3 L1472.5,793.6 L1474.0,791.0 L1475.5,788.3 L1477.1,785.7 L1478.6,783.1 L1480.2,780.5 L1481.8,777.9 L1483.4,775.3 L1485.0,772.8 L1486.6,770.2 L1488.3,767.7 L1490.0,765.2 L1491.7,762.7 L1493.4,760.3 L1495.2,757.8 L1497.0,755.4 L1498.8,753.0 L1500.7,750.7 L1502.5,748.3 L1504.4,746.0 L1506.4,743.8 L1508.4,741.5 L1510.4,739.3 L1512.4,737.1 L1514.5,735.0 L1516.6,732.9 L1518.8,730.8 L1521.0,728.8 L1523.2,726.8 L1525.5,724.8 L1527.8,722.9 L1530.2,721.0 L1532.6,719.2 L1535.1,717.4 L1537.6,715.7 L1540.2,714.0 L1542.8,712.3 L1545.4,710.7 L1548.2,709.2 L1550.9,707.7 L1553.7,706.3 L1556.5,705.0 L1559.3,703.8 L1562.2,702.7 L1565.0,701.8 L1567.9,700.9 L1570.7,700.2 L1573.6,699.6 L1576.5,699.1 L1579.3,698.8 L1582.1,698.7 L1584.9,698.8 L1587.7,699.0 L1590.5,699.5 L1593.2,700.1 L1595.8,700.9 L1598.4,701.9 L1601.0,703.0 L1603.6,704.3 L1606.1,705.8 L1608.6,707.3 L1611.0,709.0 L1613.4,710.8 L1615.7,712.7 L1618.1,714.7 L1620.3,716.8 L1622.6,718.9 L1624.8,721.1 L1626.9,723.3 L1629.1,725.5 L1631.2,727.8 L1633.2,730.1 L1635.2,732.4 L1637.2,734.7 L1639.1,737.1 L1641.0,739.5 L1642.9,741.9 L1644.7,744.3 L1646.5,746.7 L1648.3,749.2 L1650.1,751.7 L1651.8,754.2 L1653.5,756.7 L1655.1,759.2 L1656.8,761.7 L1658.4,764.3 L1660.0,766.9 L1661.5,769.5 L1663.1,772.1 L1664.6,774.7 L1666.1,777.3 L1667.6,779.9 L1669.0,782.6 L1670.5,785.2 L1671.9,787.9 L1673.3,790.6 L1674.7,793.3 L1676.1,795.9 L1677.5,798.6 L1678.8,801.3 L1680.2,804.0 L1681.5,806.8 L1682.8,809.5 L1684.1,812.2 L1685.4,814.9 L1686.7,817.6 L1688.0,820.4 L1689.3,823.1 L1690.6,825.8 L1691.8,828.5 L1693.1,831.3 L1694.4,834.0 L1695.7,836.7 L1696.9,839.4 L1698.2,842.1 L1699.4,844.9 L1700.7,847.6 L1701.9,850.3 L1703.2,853.0 L1704.4,855.7 L1705.7,858.5 L1706.9,861.2 L1708.2,863.9 L1709.4,866.6 L1710.6,869.3 L1711.9,872.0 L1713.1,874.8 L1714.3,877.5 L1715.5,880.2 L1716.8,882.9 L1718.0,885.6 L1719.2,888.3 L1720.4,891.0 L1721.6,893.7 L1722.8,896.5 L1724.1,899.2 L1725.3,901.9 L1726.5,904.6 L1727.7,907.3 L1728.9,910.0 L1730.1,912.7 L1731.3,915.4 L1732.5,918.2 L1733.7,920.9 L1734.9,923.6 L1736.1,926.3 L1737.4,929.0 L1738.6,931.7 L1739.8,934.4 L1741.0,937.1 L1742.2,939.8 L1743.4,942.5 L1744.6,945.3 L1745.8,948.0 L1747.0,950.7 L1748.2,953.4 L1749.4,956.1 L1750.6,958.8 L1751.8,961.5 L1753.0,964.2 L1754.2,967.0 L1755.4,969.7 L1756.6,972.4 L1757.8,975.1 L1759.0,977.8 L1760.3,980.5 L1761.5,983.2 L1762.7,985.9 L1763.9,988.7 L1765.1,991.4 L1766.3,994.1 L1767.6,996.8 L1768.8,999.5 L1770.0,1002.2 L1771.2,1005.0 L1772.5,1007.7 L1773.7,1010.4 L1774.9,1013.1 L1776.1,1015.8 L1777.4,1018.6 L1778.6,1021.3 L1779.9,1024.0 L1781.1,1026.7 L1782.3,1029.4 L1783.6,1032.2 L1784.8,1034.9 L1786.1,1037.6 L1787.3,1040.3 L1788.6,1043.1 L1789.9,1045.8 L1791.1,1048.5 L1792.4,1051.3 L1793.7,1054.0 L1794.9,1056.7 L1796.2,1059.4 L1797.5,1062.2 L1798.8,1064.9 L1800.1,1067.6 L1801.4,1070.4 L1802.7,1073.1 L1804.0,1075.9 L1805.3,1078.6 L1806.6,1081.3 L1807.9,1084.1 L1809.2,1086.8 L1810.5,1089.6 L1811.9,1092.3 L1813.2,1095.0 L1814.5,1097.8 L1815.9,1100.5 L1817.2,1103.3 L1818.6,1106.0 L1819.9,1108.8 L1821.3,1111.5 L1822.6,1114.3 L1824.0,1117.0 L1825.4,1119.8 L1826.8,1122.5 L1828.2,1125.3 L1829.6,1128.0 L1831.0,1130.8 L1832.4,1133.5 L1833.8,1136.2 L1835.2,1138.9 L1836.7,1141.6 L1838.1,1144.3 L1839.6,1147.0 L1841.1,1149.7 L1842.6,1152.4 L1844.1,1155.1 L1845.6,1157.7 L1847.1,1160.4 L1848.6,1163.0 L1850.2,1165.7 L1851.7,1168.3 L1853.3,1170.9 L1854.9,1173.5 L1856.5,1176.0 L1858.1,1178.6 L1859.7,1181.1 L1861.4,1183.7 L1863.0,1186.2 L1864.7,1188.7 L1866.4,1191.1 L1868.1,1193.6 L1869.9,1196.0 L1871.6,1198.4 L1873.4,1200.8 L1875.1,1203.2 L1877.0,1205.6 L1878.8,1207.9 L1880.6,1210.2 L1882.5,1212.5 L1884.4,1214.7 L1886.3,1217.0 L1888.2,1219.2 L1890.1,1221.3 L1892.1,1223.5 L1894.1,1225.6 L1896.1,1227.7 L1898.1,1229.8 L1900.2,1231.8 L1902.3,1233.8 L1904.4,1235.8 L1906.5,1237.8 L1908.6,1239.7 L1910.8,1241.6 L1913.0,1243.4 L1915.3,1245.2 L1917.5,1247.0 L1919.8,1248.8 L1922.1,1250.5 L1924.4,1252.1 L1926.8,1253.8 L1929.2,1255.4 L1931.6,1256.9 L1934.1,1258.5 L1936.5,1260.0 L1939.1,1261.4 L1941.6,1262.8 L1944.2,1264.2 L1946.8,1265.5 L1949.4,1266.8 L1952.0,1268.0 L1954.7,1269.2 L1957.5,1270.4 L1960.2,1271.5 L1963.0,1272.5 L1965.8,1273.5 L1968.7,1274.5 L1971.6,1275.4 L1974.5,1276.3 L1977.5,1277.1 L1980.5,1277.9 L1983.5,1278.6 L1986.6,1279.3 L1989.7,1279.9 L1992.8,1280.5 L1996.0,1281.0" stroke="#0000b0" stroke-width="5.6"/>
<path id="c_magenta" d="M244.0,1028.0 L244.5,1025.1 L245.0,1022.2 L245.5,1019.2 L246.0,1016.3 L246.6,1013.4 L247.1,1010.5 L247.6,1007.5 L248.1,1004.6 L248.7,1001.7 L249.2,998.7 L249.7,995.8 L250.2,992.8 L250.8,989.9 L251.3,986.9 L251.8,984.0 L252.4,981.0 L252.9,978.1 L253.5,975.1 L254.0,972.2 L254.6,969.2 L255.1,966.2 L255.7,963.3 L256.2,960.3 L256.8,957.4 L257.3,954.4 L257.9,951.4 L258.4,948.5 L259.0,945.5 L259.5,942.5 L260.1,939.6 L260.7,936.6 L261.2,933.6 L261.8,930.7 L262.4,927.7 L262.9,924.7 L263.5,921.8 L264.1,918.8 L264.7,915.8 L265.2,912.9 L265.8,909.9 L266.4,906.9 L267.0,904.0 L267.6,901.0 L268.2,898.1 L268.7,895.1 L269.3,892.1 L269.9,889.2 L270.5,886.2 L271.1,883.3 L271.7,880.3 L272.3,877.4 L272.9,874.4 L273.5,871.5 L274.1,868.6 L274.7,865.6 L275.3,862.7 L275.9,859.7 L276.5,856.8 L277.1,853.9 L277.7,851.0 L278.4,848.0 L279.0,845.1 L279.6,842.2 L280.2,839.3 L280.8,836.4 L281.4,833.5 L282.1,830.6 L282.7,827.7 L283.3,824.8 L283.9,821.9 L284.6,819.0 L285.2,816.2 L285.8,813.3 L286.4,810.4 L287.1,807.5 L287.7,804.6 L288.4,801.8 L289.0,798.9 L289.6,796.0 L290.3,793.1 L290.9,790.3 L291.6,787.4 L292.2,784.5 L292.9,781.6 L293.5,778.7 L294.2,775.8 L294.8,772.9 L295.5,770.0 L296.1,767.1 L296.8,764.2 L297.5,761.2 L298.1,758.3 L298.8,755.4 L299.5,752.4 L300.2,749.5 L300.8,746.5 L301.5,743.5 L302.2,740.5 L302.9,737.5 L303.6,734.5 L304.3,731.5 L305.0,728.4 L305.6,725.4 L306.3,722.3 L307.0,719.2 L307.8,716.2 L308.5,713.1 L309.2,710.0 L310.0,706.9 L310.8,703.8 L311.7,700.8 L312.6,697.8 L313.6,694.9 L314.7,692.1 L315.8,689.3 L317.1,686.5 L318.5,683.9 L319.9,681.4 L321.5,679.0 L323.2,676.6 L325.1,674.5 L327.1,672.5 L329.1,670.8 L331.2,669.5 L333.4,668.6 L335.6,668.1 L337.7,668.2 L339.9,668.7 L341.9,669.7 L343.9,671.0 L345.8,672.7 L347.7,674.8 L349.4,677.2 L351.1,679.8 L352.7,682.6 L354.3,685.7 L355.8,688.9 L357.2,692.2 L358.6,695.6 L360.0,699.0 L361.2,702.5 L362.5,706.0 L363.6,709.4 L364.8,712.7 L365.8,715.9 L366.9,719.0 L367.9,722.0 L368.8,724.9 L369.8,727.7 L370.7,730.4 L371.6,733.2 L372.5,735.9 L373.4,738.5 L374.3,741.2 L375.1,744.0 L376.0,746.7 L376.9,749.4 L377.7,752.1 L378.6,754.9 L379.5,757.6 L380.3,760.4 L381.2,763.2 L382.0,765.9 L382.9,768.7 L383.7,771.5 L384.6,774.3 L385.4,777.1 L386.2,779.9 L387.1,782.8 L387.9,785.6 L388.7,788.4 L389.6,791.3 L390.4,794.1 L391.2,797.0 L392.0,799.8 L392.9,802.7 L393.7,805.6 L394.5,808.4 L395.3,811.3 L396.1,814.2 L396.9,817.1 L397.7,820.0 L398.5,822.9 L399.3,825.8 L400.1,828.7 L400.9,831.6 L401.7,834.5 L402.5,837.4 L403.3,840.3 L404.1,843.2 L404.9,846.2 L405.6,849.1 L406.4,852.0 L407.2,854.9 L408.0,857.8 L408.8,860.8 L409.5,863.7 L410.3,866.6 L411.1,869.6 L411.9,872.5 L412.6,875.4 L413.4,878.3 L414.2,881.3 L414.9,884.2 L415.7,887.1 L416.4,890.0 L417.2,893.0 L418.0,895.9 L418.7,898.8 L419.5,901.7 L420.2,904.6 L421.0,907.6 L421.7,910.5 L422.5,913.4 L423.2,916.3 L424.0,919.2 L424.7,922.1 L425.5,925.1 L426.2,928.0 L427.0,930.9 L427.7,933.8 L428.5,936.7 L429.2,939.6 L430.0,942.5 L430.7,945.4 L431.4,948.3 L432.2,951.2 L432.9,954.2 L433.7,957.1 L434.4,960.0 L435.1,962.9 L435.9,965.8 L436.6,968.7 L437.3,971.6 L438.1,974.5 L438.8,977.4 L439.5,980.3 L440.3,983.2 L441.0,986.1 L441.7,989.0 L442.5,991.9 L443.2,994.8 L443.9,997.7 L444.7,1000.6 L445.4,1003.5 L446.1,1006.4 L446.8,1009.3 L447.6,1012.2 L448.3,1015.1 L449.0,1018.0 L449.8,1020.9 L450.5,1023.8 L451.2,1026.6 L451.9,1029.5 L452.7,1032.4 L453.4,1035.3 L454.1,1038.2 L454.9,1041.1 L455.6,1044.0 L456.3,1046.9 L457.0,1049.8 L457.8,1052.7 L458.5,1055.6 L459.2,1058.5 L460.0,1061.4 L460.7,1064.3 L461.4,1067.2 L462.1,1070.1 L462.9,1073.0 L463.6,1075.9 L464.3,1078.8 L465.1,1081.7 L465.8,1084.6 L466.5,1087.5 L467.3,1090.4 L468.0,1093.3 L468.7,1096.2 L469.5,1099.1 L470.2,1101.9 L470.9,1104.8 L471.7,1107.7 L472.4,1110.6 L473.2,1113.5 L473.9,1116.4 L474.6,1119.3 L475.4,1122.2 L476.1,1125.2 L476.8,1128.1 L477.6,1131.0 L478.3,1133.9 L479.1,1136.8 L479.8,1139.7 L480.6,1142.6 L481.3,1145.5 L482.1,1148.4 L482.8,1151.3 L483.6,1154.2 L484.3,1157.1 L485.1,1160.0 L485.8,1162.9 L486.6,1165.8 L487.3,1168.7 L488.1,1171.7 L488.8,1174.6 L489.6,1177.5 L490.4,1180.4 L491.1,1183.3 L491.9,1186.2 L492.7,1189.1 L493.4,1192.1 L494.2,1195.0 L495.0,1197.9 L495.8,1200.8 L496.5,1203.7 L497.3,1206.6 L498.1,1209.5 L498.9,1212.4 L499.8,1215.3 L500.6,1218.2 L501.4,1221.1 L502.2,1224.0 L503.1,1226.9 L503.9,1229.8 L504.8,1232.7 L505.7,1235.6 L506.6,1238.5 L507.5,1241.3 L508.4,1244.2 L509.3,1247.1 L510.3,1249.9 L511.2,1252.8 L512.2,1255.6 L513.2,1258.4 L514.2,1261.2 L515.2,1264.1 L516.2,1266.9 L517.3,1269.7 L518.4,1272.5 L519.5,1275.3 L520.6,1278.0 L521.7,1280.8 L522.8,1283.6 L524.0,1286.3 L525.2,1289.0 L526.4,1291.8 L527.7,1294.5 L528.9,1297.2 L530.2,1299.9 L531.5,1302.6 L532.8,1305.2 L534.2,1307.9 L535.6,1310.5 L537.0,1313.2 L538.4,1315.8 L539.9,1318.4 L541.3,1321.0 L542.9,1323.6 L544.4,1326.1 L546.0,1328.7 L547.6,1331.2 L549.2,1333.7 L550.9,1336.3 L552.6,1338.7 L554.3,1341.2 L556.1,1343.7 L557.8,1346.1 L559.7,1348.5 L561.5,1350.9 L563.4,1353.3 L565.4,1355.7 L567.3,1358.0 L569.3,1360.3 L571.4,1362.5 L573.5,1364.7 L575.6,1366.8 L577.7,1368.9 L579.9,1370.9 L582.2,1372.9 L584.5,1374.7 L586.8,1376.6 L589.2,1378.3 L591.6,1379.9 L594.1,1381.5 L596.6,1383.0 L599.2,1384.4 L601.8,1385.6 L604.4,1386.8 L607.1,1387.9 L609.9,1388.8 L612.7,1389.7 L615.6,1390.4 L618.5,1391.0 L621.4,1391.5 L624.4,1391.9 L627.4,1392.3 L630.5,1392.5 L633.5,1392.7 L636.6,1392.8 L639.7,1392.9 L642.7,1393.0 L645.8,1393.0 L648.9,1393.0 L652.0,1392.9 L655.0,1392.9 L658.1,1392.9 L661.1,1392.8 L664.1,1392.7 L667.1,1392.7 L670.1,1392.6 L673.1,1392.5 L676.1,1392.4 L679.1,1392.3 L682.0,1392.2 L685.0,1392.1 L688.0,1392.1 L691.0,1392.0 L693.9,1391.9 L696.9,1391.8 L699.9,1391.7 L702.9,1391.7 L705.8,1391.6 L708.8,1391.6 L711.8,1391.5 L714.8,1391.5 L717.8,1391.5 L720.8,1391.5 L723.8,1391.7 L726.7,1392.1 L729.6,1392.7 L732.4,1393.6 L735.1,1394.8 L737.7,1396.4 L740.3,1398.3 L742.8,1400.4 L745.3,1402.5 L747.8,1404.6 L750.3,1406.6 L752.8,1408.5 L755.4,1410.3 L758.0,1411.9 L760.6,1413.5 L763.2,1415.1 L765.9,1416.5 L768.6,1417.8 L771.3,1419.1 L774.0,1420.2 L776.7,1421.3 L779.5,1422.4 L782.2,1423.3 L785.0,1424.2 L787.8,1425.0 L790.6,1425.7 L793.5,1426.4 L796.3,1427.0 L799.2,1427.6 L802.0,1428.1 L804.9,1428.6 L807.8,1429.0 L810.7,1429.3 L813.7,1429.6 L816.6,1429.9 L819.5,1430.1 L822.5,1430.3 L825.4,1430.4 L828.4,1430.5 L831.3,1430.6 L834.3,1430.6 L837.3,1430.6 L840.3,1430.6 L843.2,1430.6 L846.2,1430.5 L849.2,1430.5 L852.2,1430.4 L855.2,1430.3 L858.2,1430.1 L861.2,1430.0 L864.2,1429.9 L867.2,1429.7 L870.2,1429.5 L873.1,1429.4 L876.1,1429.2 L879.1,1429.0 L882.1,1428.7 L885.1,1428.5 L888.1,1428.2 L891.1,1428.0 L894.1,1427.7 L897.1,1427.4 L900.1,1427.1 L903.1,1426.8 L906.1,1426.5 L909.1,1426.1 L912.0,1425.8 L915.0,1425.4 L918.0,1425.0 L921.0,1424.6 L924.0,1424.2 L927.0,1423.8 L930.0,1423.3 L932.9,1422.9 L935.9,1422.4 L938.9,1421.9 L941.9,1421.4 L944.8,1420.9 L947.8,1420.4 L950.8,1419.9 L953.7,1419.3 L956.7,1418.8 L959.7,1418.2 L962.6,1417.6 L965.6,1417.0 L968.5,1416.4 L971.5,1415.7 L974.4,1415.1 L977.4,1414.5 L980.3,1413.8 L983.3,1413.1 L986.2,1412.4 L989.1,1411.7 L992.1,1411.0 L995.0,1410.2 L997.9,1409.5 L1000.8,1408.7 L1003.7,1407.9 L1006.6,1407.1 L1009.6,1406.3 L1012.5,1405.5 L1015.4,1404.7 L1018.3,1403.8 L1021.1,1403.0 L1024.0,1402.1 L1026.9,1401.2 L1029.8,1400.3 L1032.7,1399.4 L1035.5,1398.5 L1038.4,1397.5 L1041.2,1396.6 L1044.1,1395.6 L1046.9,1394.6 L1049.8,1393.6 L1052.6,1392.6 L1055.4,1391.6 L1058.3,1390.6 L1061.1,1389.5 L1063.9,1388.4 L1066.7,1387.4 L1069.5,1386.3 L1072.3,1385.2 L1075.1,1384.0 L1077.9,1382.9 L1080.6,1381.8 L1083.4,1380.6 L1086.2,1379.4 L1088.9,1378.2 L1091.7,1377.0 L1094.4,1375.8 L1097.1,1374.6 L1099.9,1373.4 L1102.6,1372.1 L1105.3,1370.8 L1108.0,1369.5 L1110.7,1368.2 L1113.4,1366.9 L1116.1,1365.6 L1118.8,1364.3 L1121.4,1362.9 L1124.1,1361.6 L1126.8,1360.2 L1129.4,1358.8 L1132.0,1357.4 L1134.7,1355.9 L1137.3,1354.5 L1139.9,1353.1 L1142.5,1351.6 L1145.1,1350.1 L1147.7,1348.6 L1150.3,1347.1 L1152.8,1345.6 L1155.4,1344.1 L1157.9,1342.5 L1160.5,1341.0 L1163.0,1339.4 L1165.5,1337.8 L1168.0,1336.2 L1170.5,1334.6 L1173.0,1333.0 L1175.5,1331.3 L1178.0,1329.7 L1180.5,1328.0 L1182.9,1326.3 L1185.4,1324.6 L1187.8,1322.9 L1190.3,1321.2 L1192.7,1319.5 L1195.1,1317.8 L1197.5,1316.0 L1199.9,1314.2 L1202.3,1312.5 L1204.7,1310.7 L1207.1,1308.9 L1209.4,1307.1 L1211.8,1305.2 L1214.2,1303.4 L1216.5,1301.6 L1218.8,1299.7 L1221.2,1297.8 L1223.5,1296.0 L1225.8,1294.1 L1228.1,1292.2 L1230.4,1290.2 L1232.6,1288.3 L1234.9,1286.4 L1237.2,1284.4 L1239.4,1282.5 L1241.7,1280.5 L1243.9,1278.5 L1246.2,1276.6 L1248.4,1274.6 L1250.6,1272.5 L1252.8,1270.5 L1255.0,1268.5 L1257.2,1266.5 L1259.4,1264.4 L1261.6,1262.4 L1263.7,1260.3 L1265.9,1258.2 L1268.0,1256.1 L1270.2,1254.0 L1272.3,1251.9 L1274.4,1249.8 L1276.6,1247.7 L1278.7,1245.6 L1280.8,1243.4 L1282.9,1241.3 L1284.9,1239.1 L1287.0,1237.0 L1289.1,1234.8 L1291.2,1232.6 L1293.2,1230.4 L1295.3,1228.2 L1297.3,1226.0 L1299.3,1223.8 L1301.4,1221.6 L1303.4,1219.4 L1305.4,1217.1 L1307.4,1214.9 L1309.4,1212.6 L1311.4,1210.4 L1313.3,1208.1 L1315.3,1205.8 L1317.3,1203.6 L1319.2,1201.3 L1321.2,1199.0 L1323.1,1196.7 L1325.0,1194.4 L1327.0,1192.1 L1328.9,1189.7 L1330.8,1187.4 L1332.7,1185.1 L1334.6,1182.7 L1336.5,1180.4 L1338.3,1178.0 L1340.2,1175.7 L1342.1,1173.3 L1343.9,1170.9 L1345.8,1168.6 L1347.6,1166.2 L1349.5,1163.8 L1351.3,1161.4 L1353.1,1159.0 L1355.0,1156.6 L1356.8,1154.2 L1358.6,1151.8 L1360.4,1149.4 L1362.2,1147.0 L1364.0,1144.6 L1365.8,1142.2 L1367.6,1139.8 L1369.4,1137.4 L1371.2,1135.0 L1373.0,1132.5 L1374.8,1130.1 L1376.6,1127.7 L1378.4,1125.3 L1380.2,1122.9 L1382.0,1120.5 L1383.8,1118.0 L1385.5,1115.6 L1387.3,1113.2 L1389.1,1110.8 L1390.9,1108.4 L1392.7,1106.0 L1394.5,1103.6 L1396.3,1101.2 L1398.1,1098.8 L1399.9,1096.4 L1401.7,1094.0 L1403.5,1091.6 L1405.3,1089.2 L1407.1,1086.8 L1408.9,1084.4 L1410.7,1082.0 L1412.6,1079.7 L1414.4,1077.3 L1416.2,1074.9 L1418.1,1072.6 L1419.9,1070.2 L1421.8,1067.9 L1423.6,1065.5 L1425.5,1063.2 L1427.3,1060.9 L1429.2,1058.6 L1431.1,1056.3 L1433.0,1054.0 L1434.9,1051.7 L1436.8,1049.4 L1438.7,1047.1 L1440.6,1044.8 L1442.6,1042.6 L1444.5,1040.3 L1446.5,1038.1 L1448.4,1035.9 L1450.4,1033.6 L1452.4,1031.4 L1454.4,1029.2 L1456.4,1027.1 L1458.4,1024.9 L1460.4,1022.7 L1462.5,1020.6 L1464.5,1018.4 L1466.6,1016.3 L1468.7,1014.2 L1470.7,1012.1 L1472.8,1010.0 L1475.0,1007.9 L1477.1,1005.8 L1479.3,1003.8 L1481.4,1001.8 L1483.6,999.7 L1485.8,997.7 L1488.0,995.7 L1490.3,993.8 L1492.5,991.8 L1494.8,989.9 L1497.1,987.9 L1499.4,986.0 L1501.7,984.1 L1504.1,982.3 L1506.5,980.4 L1508.9,978.6 L1511.3,976.8 L1513.7,975.0 L1516.2,973.2 L1518.7,971.4 L1521.2,969.7 L1523.7,968.0 L1526.3,966.3 L1528.9,964.6 L1531.5,962.9 L1534.2,961.3 L1536.8,959.7 L1539.5,958.1 L1542.2,956.6 L1545.0,955.1 L1547.7,953.8 L1550.5,952.5 L1553.3,951.3 L1556.1,950.2 L1558.9,949.2 L1561.7,948.3 L1564.5,947.6 L1567.4,946.9 L1570.2,946.5 L1573.1,946.2 L1575.9,946.0 L1578.8,945.9 L1581.6,946.0 L1584.5,946.1 L1587.3,946.4 L1590.2,946.8 L1593.0,947.4 L1595.9,948.0 L1598.7,948.7 L1601.5,949.6 L1604.3,950.5 L1607.1,951.5 L1609.8,952.6 L1612.6,953.8 L1615.3,955.1 L1618.0,956.5 L1620.7,957.9 L1623.4,959.4 L1626.0,961.0 L1628.6,962.6 L1631.2,964.3 L1633.8,966.1 L1636.3,967.9 L1638.8,969.7 L1641.3,971.6 L1643.7,973.6 L1646.1,975.6 L1648.4,977.6 L1650.7,979.7 L1653.0,981.8 L1655.2,983.9 L1657.4,986.0 L1659.5,988.2 L1661.6,990.4 L1663.7,992.6 L1665.7,994.8 L1667.7,997.1 L1669.7,999.3 L1671.6,1001.6 L1673.5,1003.9 L1675.4,1006.3 L1677.2,1008.6 L1679.0,1011.0 L1680.8,1013.4 L1682.6,1015.8 L1684.3,1018.2 L1686.0,1020.6 L1687.7,1023.0 L1689.4,1025.5 L1691.1,1027.9 L1692.8,1030.4 L1694.4,1032.9 L1696.0,1035.3 L1697.7,1037.8 L1699.3,1040.3 L1700.9,1042.8 L1702.5,1045.3 L1704.1,1047.8 L1705.7,1050.4 L1707.2,1052.9 L1708.8,1055.4 L1710.4,1057.9 L1712.0,1060.4 L1713.6,1063.0 L1715.1,1065.5 L1716.7,1068.0 L1718.3,1070.5 L1719.8,1073.1 L1721.4,1075.6 L1723.0,1078.1 L1724.5,1080.7 L1726.1,1083.2 L1727.6,1085.8 L1729.2,1088.3 L1730.8,1090.8 L1732.3,1093.4 L1733.9,1095.9 L1735.4,1098.5 L1737.0,1101.0 L1738.6,1103.6 L1740.1,1106.1 L1741.7,1108.6 L1743.3,1111.2 L1744.8,1113.7 L1746.4,1116.3 L1748.0,1118.8 L1749.5,1121.3 L1751.1,1123.9 L1752.7,1126.4 L1754.3,1129.0 L1755.9,1131.5 L1757.4,1134.0 L1759.0,1136.6 L1760.6,1139.1 L1762.2,1141.6 L1763.8,1144.1 L1765.4,1146.7 L1767.0,1149.2 L1768.7,1151.7 L1770.3,1154.2 L1771.9,1156.7 L1773.5,1159.2 L1775.2,1161.7 L1776.8,1164.2 L1778.5,1166.7 L1780.1,1169.2 L1781.8,1171.7 L1783.5,1174.2 L1785.1,1176.7 L1786.8,1179.2 L1788.5,1181.7 L1790.2,1184.1 L1791.9,1186.6 L1793.6,1189.1 L1795.3,1191.5 L1797.1,1194.0 L1798.8,1196.4 L1800.5,1198.9 L1802.3,1201.3 L1804.1,1203.7 L1805.8,1206.2 L1807.6,1208.6 L1809.4,1211.0 L1811.2,1213.4 L1813.0,1215.8 L1814.9,1218.2 L1816.7,1220.6 L1818.5,1223.0 L1820.4,1225.3 L1822.2,1227.7 L1824.1,1230.1 L1826.0,1232.4 L1827.9,1234.8 L1829.8,1237.1 L1831.8,1239.4 L1833.7,1241.7 L1835.6,1244.0 L1837.6,1246.3 L1839.6,1248.6 L1841.6,1250.9 L1843.6,1253.2 L1845.6,1255.4 L1847.6,1257.6 L1849.7,1259.9 L1851.7,1262.1 L1853.8,1264.3 L1855.9,1266.4 L1858.0,1268.6 L1860.1,1270.7 L1862.2,1272.8 L1864.4,1274.9 L1866.5,1277.0 L1868.7,1279.1 L1870.9,1281.1 L1873.1,1283.1 L1875.4,1285.1 L1877.6,1287.0 L1879.9,1289.0 L1882.1,1290.9 L1884.4,1292.8 L1886.7,1294.6 L1889.1,1296.5 L1891.4,1298.3 L1893.8,1300.1 L1896.2,1301.8 L1898.6,1303.5 L1901.0,1305.2 L1903.5,1306.9 L1905.9,1308.5 L1908.4,1310.1 L1910.9,1311.6 L1913.4,1313.1 L1916.0,1314.6 L1918.5,1316.1 L1921.1,1317.5 L1923.7,1318.9 L1926.3,1320.2 L1929.0,1321.5 L1931.6,1322.8 L1934.3,1324.0 L1937.0,1325.2 L1939.7,1326.3 L1942.5,1327.4 L1945.3,1328.5 L1948.1,1329.5 L1950.9,1330.4 L1953.7,1331.4 L1956.6,1332.2 L1959.5,1333.1 L1962.4,1333.8 L1965.3,1334.6 L1968.3,1335.3 L1971.3,1335.9 L1974.3,1336.5 L1977.3,1337.0 L1980.4,1337.5 L1983.4,1338.0 L1986.5,1338.4 L1989.7,1338.7 L1992.8,1339.0 L1996.0,1339.2" stroke="#ff00ff" stroke-width="5.6"/>
<path id="c_green" d="M244.0,1241.0 L245.1,1238.3 L246.2,1235.5 L247.4,1232.8 L248.6,1230.1 L249.9,1227.3 L251.1,1224.6 L252.5,1221.8 L253.8,1219.1 L255.1,1216.3 L256.5,1213.6 L257.8,1210.8 L259.2,1208.1 L260.5,1205.3 L261.8,1202.6 L263.1,1199.9 L264.3,1197.2 L265.6,1194.5 L266.7,1191.8 L267.9,1189.1 L269.0,1186.4 L270.2,1183.7 L271.3,1181.0 L272.3,1178.3 L273.4,1175.6 L274.5,1173.0 L275.5,1170.3 L276.5,1167.6 L277.6,1164.9 L278.6,1162.1 L279.6,1159.4 L280.7,1156.7 L281.7,1153.9 L282.8,1151.2 L283.8,1148.4 L284.9,1145.6 L286.0,1142.8 L287.1,1139.9 L288.3,1137.1 L289.4,1134.2 L290.6,1131.3 L291.8,1128.4 L293.1,1125.4 L294.4,1122.5 L295.7,1119.5 L297.1,1116.5 L298.5,1113.5 L300.0,1110.6 L301.5,1107.7 L303.1,1104.8 L304.8,1102.0 L306.6,1099.4 L308.5,1096.8 L310.5,1094.3 L312.5,1092.0 L314.7,1089.8 L317.0,1087.7 L319.4,1085.9 L321.9,1084.2 L324.4,1082.7 L327.0,1081.5 L329.6,1080.5 L332.1,1079.8 L334.7,1079.4 L337.2,1079.3 L339.6,1079.4 L342.0,1079.9 L344.3,1080.6 L346.6,1081.6 L348.8,1082.8 L351.0,1084.2 L353.1,1085.9 L355.2,1087.7 L357.3,1089.6 L359.3,1091.8 L361.3,1094.0 L363.3,1096.4 L365.2,1098.8 L367.1,1101.4 L369.0,1104.0 L370.8,1106.7 L372.7,1109.3 L374.5,1112.0 L376.3,1114.7 L378.1,1117.4 L379.8,1120.1 L381.6,1122.8 L383.3,1125.4 L385.0,1128.1 L386.7,1130.7 L388.4,1133.4 L390.1,1136.0 L391.8,1138.6 L393.4,1141.3 L395.1,1143.9 L396.7,1146.5 L398.3,1149.1 L399.9,1151.7 L401.5,1154.3 L403.1,1156.9 L404.7,1159.4 L406.2,1162.0 L407.8,1164.6 L409.3,1167.2 L410.8,1169.8 L412.3,1172.3 L413.8,1174.9 L415.3,1177.5 L416.8,1180.0 L418.3,1182.6 L419.7,1185.2 L421.2,1187.7 L422.6,1190.3 L424.0,1192.9 L425.5,1195.4 L426.9,1198.0 L428.3,1200.6 L429.7,1203.2 L431.1,1205.7 L432.5,1208.3 L433.9,1210.9 L435.2,1213.5 L436.6,1216.1 L438.0,1218.7 L439.3,1221.3 L440.7,1223.9 L442.0,1226.5 L443.4,1229.1 L444.7,1231.7 L446.0,1234.3 L447.4,1237.0 L448.7,1239.6 L450.0,1242.3 L451.3,1244.9 L452.6,1247.6 L453.9,1250.3 L455.2,1252.9 L456.5,1255.6 L457.8,1258.3 L459.1,1261.1 L460.4,1263.8 L461.7,1266.5 L463.0,1269.3 L464.3,1272.0 L465.6,1274.8 L466.9,1277.5 L468.1,1280.3 L469.4,1283.1 L470.7,1285.8 L472.1,1288.6 L473.4,1291.4 L474.7,1294.2 L476.0,1296.9 L477.3,1299.7 L478.7,1302.5 L480.0,1305.2 L481.4,1308.0 L482.8,1310.7 L484.2,1313.5 L485.6,1316.2 L487.0,1318.9 L488.4,1321.6 L489.9,1324.3 L491.3,1327.0 L492.8,1329.6 L494.3,1332.3 L495.8,1334.9 L497.4,1337.5 L498.9,1340.1 L500.5,1342.7 L502.1,1345.2 L503.8,1347.7 L505.4,1350.2 L507.1,1352.7 L508.8,1355.2 L510.5,1357.6 L512.3,1360.0 L514.1,1362.3 L515.9,1364.6 L517.7,1366.9 L519.6,1369.2 L521.5,1371.4 L523.5,1373.6 L525.5,1375.8 L527.5,1377.9 L529.5,1380.0 L531.6,1382.0 L533.7,1384.0 L535.9,1385.9 L538.1,1387.9 L540.3,1389.7 L542.6,1391.5 L544.9,1393.3 L547.3,1395.0 L549.7,1396.7 L552.1,1398.3 L554.6,1399.9 L557.2,1401.4 L559.7,1402.9 L562.3,1404.3 L565.0,1405.7 L567.6,1407.0 L570.4,1408.3 L573.1,1409.5 L575.9,1410.6 L578.6,1411.7 L581.5,1412.8 L584.3,1413.8 L587.1,1414.7 L590.0,1415.6 L592.9,1416.4 L595.8,1417.2 L598.8,1417.9 L601.7,1418.6 L604.6,1419.2 L607.6,1419.8 L610.6,1420.2 L613.5,1420.7 L616.5,1421.1 L619.5,1421.4 L622.5,1421.6 L625.5,1421.9 L628.5,1422.1 L631.5,1422.2 L634.5,1422.3 L637.5,1422.4 L640.5,1422.4 L643.5,1422.4 L646.5,1422.4 L649.5,1422.3 L652.5,1422.3 L655.6,1422.2 L658.6,1422.1 L661.6,1422.0 L664.6,1421.9 L667.6,1421.7 L670.6,1421.6 L673.6,1421.5 L676.6,1421.3 L679.7,1421.2 L682.7,1421.1 L685.7,1421.0 L688.7,1420.9 L691.7,1420.8 L694.7,1420.7 L697.7,1420.7 L700.6,1420.6 L703.6,1420.7 L706.6,1420.7 L709.6,1420.8 L712.5,1421.0 L715.4,1421.3 L718.4,1421.7 L721.3,1422.3 L724.1,1423.0 L727.0,1423.8 L729.8,1424.8 L732.6,1425.9 L735.4,1427.2 L738.2,1428.5 L741.0,1429.8 L743.8,1431.1 L746.5,1432.5 L749.3,1433.7 L752.1,1434.9 L754.9,1436.1 L757.7,1437.2 L760.6,1438.3 L763.4,1439.3 L766.2,1440.3 L769.0,1441.2 L771.9,1442.1 L774.7,1442.9 L777.6,1443.7 L780.5,1444.4 L783.3,1445.1 L786.2,1445.8 L789.1,1446.4 L792.0,1447.0 L794.9,1447.5 L797.8,1448.0 L800.7,1448.5 L803.6,1448.9 L806.5,1449.3 L809.4,1449.7 L812.3,1450.0 L815.3,1450.3 L818.2,1450.6 L821.1,1450.8 L824.1,1451.0 L827.0,1451.2 L830.0,1451.4 L832.9,1451.5 L835.9,1451.6 L838.8,1451.7 L841.8,1451.8 L844.8,1451.8 L847.7,1451.9 L850.7,1451.9 L853.7,1451.9 L856.7,1451.8 L859.6,1451.8 L862.6,1451.8 L865.6,1451.7 L868.6,1451.6 L871.6,1451.5 L874.6,1451.4 L877.6,1451.3 L880.6,1451.2 L883.6,1451.0 L886.6,1450.9 L889.6,1450.8 L892.6,1450.6 L895.6,1450.5 L898.6,1450.3 L901.6,1450.1 L904.6,1450.0 L907.6,1449.8 L910.6,1449.7 L913.6,1449.5 L916.6,1449.3 L919.6,1449.1 L922.6,1449.0 L925.6,1448.8 L928.6,1448.6 L931.6,1448.4 L934.6,1448.2 L937.7,1448.0 L940.7,1447.8 L943.7,1447.6 L946.7,1447.4 L949.7,1447.2 L952.7,1447.0 L955.7,1446.7 L958.7,1446.5 L961.7,1446.3 L964.7,1446.0 L967.7,1445.8 L970.7,1445.6 L973.7,1445.3 L976.8,1445.0 L979.8,1444.8 L982.8,1444.5 L985.8,1444.2 L988.8,1443.9 L991.8,1443.7 L994.8,1443.4 L997.8,1443.1 L1000.8,1442.8 L1003.8,1442.4 L1006.8,1442.1 L1009.8,1441.8 L1012.8,1441.5 L1015.7,1441.1 L1018.7,1440.8 L1021.7,1440.4 L1024.7,1440.0 L1027.7,1439.7 L1030.7,1439.3 L1033.7,1438.9 L1036.7,1438.5 L1039.6,1438.1 L1042.6,1437.7 L1045.6,1437.3 L1048.6,1436.9 L1051.5,1436.4 L1054.5,1436.0 L1057.5,1435.5 L1060.4,1435.1 L1063.4,1434.6 L1066.4,1434.1 L1069.3,1433.6 L1072.3,1433.1 L1075.2,1432.6 L1078.2,1432.1 L1081.1,1431.6 L1084.1,1431.0 L1087.0,1430.5 L1090.0,1429.9 L1092.9,1429.4 L1095.8,1428.8 L1098.8,1428.2 L1101.7,1427.6 L1104.6,1427.0 L1107.5,1426.4 L1110.5,1425.7 L1113.4,1425.1 L1116.3,1424.4 L1119.2,1423.8 L1122.1,1423.1 L1125.0,1422.4 L1127.9,1421.7 L1130.8,1421.0 L1133.7,1420.3 L1136.6,1419.5 L1139.5,1418.8 L1142.3,1418.0 L1145.2,1417.3 L1148.1,1416.5 L1151.0,1415.7 L1153.8,1414.9 L1156.7,1414.1 L1159.5,1413.2 L1162.4,1412.4 L1165.3,1411.5 L1168.1,1410.6 L1170.9,1409.8 L1173.8,1408.9 L1176.6,1408.0 L1179.4,1407.0 L1182.3,1406.1 L1185.1,1405.2 L1187.9,1404.2 L1190.7,1403.2 L1193.5,1402.2 L1196.3,1401.2 L1199.1,1400.2 L1201.9,1399.2 L1204.7,1398.2 L1207.5,1397.1 L1210.3,1396.1 L1213.0,1395.0 L1215.8,1393.9 L1218.6,1392.8 L1221.4,1391.7 L1224.1,1390.6 L1226.9,1389.5 L1229.6,1388.3 L1232.4,1387.2 L1235.1,1386.0 L1237.8,1384.8 L1240.6,1383.7 L1243.3,1382.5 L1246.0,1381.2 L1248.8,1380.0 L1251.5,1378.8 L1254.2,1377.5 L1256.9,1376.3 L1259.6,1375.0 L1262.3,1373.7 L1265.0,1372.4 L1267.7,1371.1 L1270.3,1369.8 L1273.0,1368.5 L1275.7,1367.1 L1278.4,1365.8 L1281.0,1364.4 L1283.7,1363.0 L1286.3,1361.6 L1289.0,1360.2 L1291.6,1358.8 L1294.3,1357.4 L1296.9,1356.0 L1299.5,1354.5 L1302.2,1353.1 L1304.8,1351.6 L1307.4,1350.1 L1310.0,1348.7 L1312.6,1347.1 L1315.2,1345.6 L1317.8,1344.1 L1320.4,1342.6 L1323.0,1341.0 L1325.6,1339.5 L1328.2,1337.9 L1330.7,1336.3 L1333.3,1334.7 L1335.9,1333.1 L1338.4,1331.5 L1341.0,1329.9 L1343.5,1328.3 L1346.1,1326.6 L1348.6,1325.0 L1351.1,1323.3 L1353.7,1321.7 L1356.2,1320.0 L1358.7,1318.4 L1361.2,1316.7 L1363.8,1315.0 L1366.3,1313.3 L1368.8,1311.7 L1371.3,1310.0 L1373.9,1308.3 L1376.4,1306.7 L1378.9,1305.0 L1381.4,1303.3 L1384.0,1301.7 L1386.5,1300.1 L1389.0,1298.4 L1391.5,1296.8 L1394.1,1295.2 L1396.6,1293.6 L1399.1,1292.0 L1401.7,1290.4 L1404.2,1288.8 L1406.8,1287.3 L1409.4,1285.7 L1411.9,1284.2 L1414.5,1282.7 L1417.1,1281.2 L1419.6,1279.8 L1422.2,1278.3 L1424.8,1276.9 L1427.4,1275.5 L1430.0,1274.1 L1432.7,1272.8 L1435.3,1271.4 L1437.9,1270.1 L1440.6,1268.9 L1443.2,1267.6 L1445.9,1266.4 L1448.6,1265.2 L1451.3,1264.0 L1454.0,1262.9 L1456.7,1261.7 L1459.4,1260.6 L1462.1,1259.4 L1464.8,1258.3 L1467.6,1257.2 L1470.3,1256.1 L1473.0,1254.9 L1475.8,1253.8 L1478.6,1252.7 L1481.3,1251.5 L1484.1,1250.3 L1486.9,1249.1 L1489.7,1247.9 L1492.5,1246.7 L1495.3,1245.4 L1498.1,1244.1 L1501.0,1242.8 L1503.8,1241.4 L1506.6,1240.0 L1509.4,1238.7 L1512.3,1237.3 L1515.1,1236.0 L1518.0,1234.6 L1520.8,1233.3 L1523.7,1232.1 L1526.6,1230.9 L1529.5,1229.7 L1532.3,1228.6 L1535.2,1227.6 L1538.1,1226.7 L1541.0,1225.8 L1543.9,1225.0 L1546.8,1224.3 L1549.7,1223.6 L1552.6,1223.0 L1555.6,1222.5 L1558.5,1222.1 L1561.4,1221.7 L1564.3,1221.4 L1567.2,1221.1 L1570.2,1221.0 L1573.1,1220.8 L1576.0,1220.8 L1578.9,1220.8 L1581.9,1220.8 L1584.8,1221.0 L1587.7,1221.1 L1590.6,1221.4 L1593.5,1221.7 L1596.4,1222.0 L1599.4,1222.4 L1602.3,1222.9 L1605.2,1223.4 L1608.1,1223.9 L1610.9,1224.5 L1613.8,1225.2 L1616.7,1225.9 L1619.6,1226.6 L1622.4,1227.4 L1625.3,1228.2 L1628.2,1229.1 L1631.0,1230.0 L1633.8,1231.0 L1636.7,1232.0 L1639.5,1233.0 L1642.3,1234.1 L1645.1,1235.2 L1647.9,1236.4 L1650.7,1237.5 L1653.4,1238.8 L1656.2,1240.0 L1658.9,1241.3 L1661.6,1242.6 L1664.4,1243.9 L1667.1,1245.3 L1669.8,1246.7 L1672.4,1248.1 L1675.1,1249.6 L1677.7,1251.1 L1680.4,1252.6 L1683.0,1254.1 L1685.6,1255.6 L1688.2,1257.2 L1690.7,1258.8 L1693.3,1260.4 L1695.8,1262.0 L1698.4,1263.7 L1700.9,1265.3 L1703.4,1267.0 L1705.9,1268.7 L1708.3,1270.4 L1710.8,1272.1 L1713.3,1273.8 L1715.7,1275.6 L1718.2,1277.4 L1720.6,1279.1 L1723.0,1280.9 L1725.4,1282.7 L1727.8,1284.5 L1730.2,1286.3 L1732.6,1288.1 L1735.0,1290.0 L1737.4,1291.8 L1739.7,1293.6 L1742.1,1295.5 L1744.5,1297.3 L1746.8,1299.2 L1749.2,1301.1 L1751.5,1302.9 L1753.9,1304.8 L1756.2,1306.7 L1758.6,1308.5 L1760.9,1310.4 L1763.3,1312.3 L1765.6,1314.1 L1768.0,1316.0 L1770.3,1317.9 L1772.7,1319.7 L1775.0,1321.6 L1777.4,1323.4 L1779.7,1325.3 L1782.1,1327.1 L1784.5,1328.9 L1786.8,1330.8 L1789.2,1332.6 L1791.6,1334.4 L1794.0,1336.2 L1796.4,1338.0 L1798.8,1339.8 L1801.2,1341.5 L1803.6,1343.3 L1806.0,1345.0 L1808.5,1346.7 L1810.9,1348.5 L1813.4,1350.2 L1815.8,1351.8 L1818.3,1353.5 L1820.8,1355.2 L1823.3,1356.8 L1825.8,1358.4 L1828.3,1360.0 L1830.9,1361.6 L1833.4,1363.1 L1836.0,1364.7 L1838.6,1366.2 L1841.2,1367.7 L1843.8,1369.1 L1846.4,1370.6 L1849.1,1372.0 L1851.7,1373.4 L1854.4,1374.8 L1857.1,1376.1 L1859.7,1377.4 L1862.5,1378.7 L1865.2,1380.0 L1867.9,1381.3 L1870.6,1382.5 L1873.4,1383.7 L1876.1,1384.9 L1878.9,1386.0 L1881.7,1387.2 L1884.5,1388.3 L1887.3,1389.4 L1890.1,1390.4 L1892.9,1391.4 L1895.8,1392.4 L1898.6,1393.4 L1901.5,1394.3 L1904.3,1395.2 L1907.2,1396.1 L1910.1,1397.0 L1913.0,1397.8 L1915.9,1398.6 L1918.8,1399.4 L1921.7,1400.1 L1924.6,1400.8 L1927.5,1401.5 L1930.4,1402.2 L1933.4,1402.8 L1936.3,1403.4 L1939.2,1403.9 L1942.2,1404.5 L1945.2,1405.0 L1948.1,1405.4 L1951.1,1405.8 L1954.1,1406.2 L1957.0,1406.6 L1960.0,1406.9 L1963.0,1407.2 L1966.0,1407.5 L1969.0,1407.7 L1972.0,1407.9 L1975.0,1408.1 L1978.0,1408.2 L1981.0,1408.3 L1984.0,1408.4 L1987.0,1408.4 L1990.0,1408.4 L1993.0,1408.4 L1996.0,1408.3" stroke="#008000" stroke-width="5.6"/>
<path id="c_brown" d="M244.0,1283.0 L246.2,1280.7 L248.3,1278.3 L250.3,1276.0 L252.3,1273.7 L254.3,1271.4 L256.2,1269.1 L258.0,1266.8 L259.8,1264.5 L261.6,1262.2 L263.3,1259.8 L265.0,1257.5 L266.6,1255.2 L268.2,1252.8 L269.8,1250.4 L271.3,1248.0 L272.8,1245.5 L274.3,1243.0 L275.8,1240.5 L277.2,1238.0 L278.6,1235.4 L280.0,1232.8 L281.4,1230.1 L282.7,1227.4 L284.0,1224.6 L285.4,1221.7 L286.7,1218.9 L288.0,1216.0 L289.4,1213.1 L290.7,1210.2 L292.1,1207.3 L293.6,1204.4 L295.0,1201.6 L296.6,1198.8 L298.2,1196.0 L299.8,1193.4 L301.6,1190.8 L303.4,1188.4 L305.3,1186.1 L307.4,1183.9 L309.5,1181.8 L311.8,1179.9 L314.1,1178.1 L316.6,1176.6 L319.1,1175.2 L321.7,1174.0 L324.4,1173.1 L327.0,1172.4 L329.7,1171.9 L332.4,1171.7 L335.1,1171.8 L337.7,1172.1 L340.3,1172.6 L342.9,1173.4 L345.5,1174.3 L348.1,1175.5 L350.6,1176.8 L353.1,1178.3 L355.6,1179.9 L358.0,1181.6 L360.5,1183.4 L362.9,1185.4 L365.2,1187.4 L367.6,1189.5 L369.9,1191.6 L372.1,1193.8 L374.4,1196.0 L376.6,1198.2 L378.7,1200.5 L380.9,1202.7 L383.0,1205.1 L385.0,1207.4 L387.1,1209.7 L389.1,1212.1 L391.1,1214.5 L393.1,1216.9 L395.0,1219.3 L396.9,1221.8 L398.8,1224.2 L400.7,1226.6 L402.6,1229.1 L404.4,1231.6 L406.2,1234.0 L408.0,1236.5 L409.8,1239.0 L411.5,1241.4 L413.3,1243.9 L415.0,1246.3 L416.7,1248.8 L418.4,1251.2 L420.1,1253.7 L421.8,1256.1 L423.4,1258.5 L425.1,1260.9 L426.7,1263.3 L428.4,1265.8 L430.0,1268.2 L431.6,1270.6 L433.2,1273.0 L434.9,1275.4 L436.5,1277.8 L438.1,1280.2 L439.7,1282.6 L441.3,1285.0 L442.9,1287.4 L444.5,1289.8 L446.0,1292.3 L447.6,1294.7 L449.2,1297.1 L450.8,1299.6 L452.4,1302.0 L454.1,1304.5 L455.7,1307.0 L457.3,1309.4 L458.9,1311.9 L460.5,1314.4 L462.2,1317.0 L463.8,1319.5 L465.5,1322.0 L467.2,1324.6 L468.8,1327.1 L470.5,1329.7 L472.2,1332.2 L473.9,1334.8 L475.7,1337.3 L477.4,1339.9 L479.2,1342.4 L480.9,1345.0 L482.7,1347.5 L484.5,1350.1 L486.3,1352.6 L488.1,1355.1 L490.0,1357.6 L491.8,1360.1 L493.7,1362.5 L495.6,1365.0 L497.5,1367.4 L499.4,1369.8 L501.4,1372.2 L503.3,1374.6 L505.3,1376.9 L507.3,1379.2 L509.3,1381.5 L511.4,1383.7 L513.5,1386.0 L515.5,1388.1 L517.7,1390.3 L519.8,1392.4 L522.0,1394.5 L524.1,1396.5 L526.4,1398.5 L528.6,1400.4 L530.8,1402.3 L533.1,1404.2 L535.5,1406.0 L537.8,1407.8 L540.2,1409.5 L542.6,1411.1 L545.0,1412.7 L547.4,1414.3 L549.9,1415.8 L552.4,1417.2 L555.0,1418.6 L557.6,1419.9 L560.2,1421.1 L562.8,1422.3 L565.5,1423.4 L568.2,1424.4 L570.9,1425.4 L573.7,1426.4 L576.4,1427.3 L579.2,1428.1 L582.1,1428.8 L584.9,1429.6 L587.8,1430.2 L590.7,1430.9 L593.6,1431.4 L596.5,1432.0 L599.5,1432.4 L602.5,1432.9 L605.4,1433.3 L608.4,1433.7 L611.5,1434.0 L614.5,1434.3 L617.5,1434.5 L620.6,1434.8 L623.6,1435.0 L626.7,1435.1 L629.8,1435.3 L632.8,1435.4 L635.9,1435.5 L639.0,1435.5 L642.1,1435.6 L645.2,1435.6 L648.3,1435.6 L651.4,1435.6 L654.5,1435.6 L657.5,1435.6 L660.6,1435.5 L663.7,1435.4 L666.8,1435.4 L669.8,1435.3 L672.9,1435.2 L676.0,1435.2 L679.0,1435.1 L682.0,1435.0 L685.0,1434.9 L688.1,1434.9 L691.0,1434.8 L694.0,1434.7 L697.0,1434.7 L699.9,1434.6 L702.8,1434.6 L705.7,1434.6 L708.6,1434.6 L711.5,1434.7 L714.4,1434.8 L717.2,1435.0 L720.1,1435.3 L722.9,1435.6 L725.7,1436.1 L728.6,1436.7 L731.4,1437.4 L734.2,1438.3 L737.0,1439.3 L739.8,1440.4 L742.7,1441.5 L745.5,1442.7 L748.3,1443.9 L751.2,1445.0 L754.0,1446.0 L756.9,1447.0 L759.8,1448.0 L762.6,1448.9 L765.5,1449.8 L768.4,1450.7 L771.3,1451.5 L774.2,1452.3 L777.1,1453.0 L780.0,1453.7 L782.9,1454.3 L785.8,1454.9 L788.7,1455.5 L791.7,1456.1 L794.6,1456.6 L797.5,1457.1 L800.5,1457.5 L803.4,1458.0 L806.4,1458.3 L809.3,1458.7 L812.3,1459.0 L815.2,1459.3 L818.2,1459.6 L821.2,1459.9 L824.1,1460.1 L827.1,1460.3 L830.1,1460.5 L833.0,1460.6 L836.0,1460.8 L839.0,1460.9 L842.0,1461.0 L845.0,1461.0 L848.0,1461.1 L851.0,1461.1 L854.0,1461.1 L857.0,1461.1 L860.0,1461.1 L863.0,1461.1 L866.0,1461.0 L869.0,1461.0 L872.0,1460.9 L875.0,1460.8 L878.0,1460.7 L881.0,1460.6 L884.0,1460.5 L887.0,1460.4 L890.0,1460.2 L893.0,1460.1 L896.0,1460.0 L899.0,1459.8 L902.0,1459.6 L905.0,1459.5 L908.0,1459.3 L911.0,1459.1 L914.0,1459.0 L917.0,1458.8 L920.0,1458.6 L923.0,1458.4 L926.0,1458.2 L929.0,1458.0 L932.0,1457.8 L935.0,1457.6 L938.0,1457.3 L941.0,1457.1 L944.0,1456.9 L947.0,1456.6 L949.9,1456.4 L952.9,1456.2 L955.9,1455.9 L958.9,1455.6 L961.9,1455.4 L964.9,1455.1 L967.9,1454.8 L970.9,1454.6 L973.9,1454.3 L976.9,1454.0 L979.8,1453.7 L982.8,1453.4 L985.8,1453.1 L988.8,1452.8 L991.8,1452.5 L994.8,1452.1 L997.8,1451.8 L1000.7,1451.5 L1003.7,1451.1 L1006.7,1450.8 L1009.7,1450.4 L1012.7,1450.1 L1015.7,1449.7 L1018.6,1449.4 L1021.6,1449.0 L1024.6,1448.6 L1027.6,1448.2 L1030.5,1447.9 L1033.5,1447.5 L1036.5,1447.1 L1039.5,1446.7 L1042.4,1446.3 L1045.4,1445.9 L1048.4,1445.4 L1051.4,1445.0 L1054.3,1444.6 L1057.3,1444.2 L1060.3,1443.7 L1063.2,1443.3 L1066.2,1442.9 L1069.2,1442.4 L1072.1,1441.9 L1075.1,1441.5 L1078.1,1441.0 L1081.0,1440.5 L1084.0,1440.1 L1086.9,1439.6 L1089.9,1439.1 L1092.9,1438.6 L1095.8,1438.1 L1098.8,1437.6 L1101.7,1437.1 L1104.7,1436.6 L1107.6,1436.1 L1110.6,1435.5 L1113.6,1435.0 L1116.5,1434.5 L1119.5,1433.9 L1122.4,1433.4 L1125.3,1432.8 L1128.3,1432.2 L1131.2,1431.7 L1134.2,1431.1 L1137.1,1430.5 L1140.0,1429.9 L1143.0,1429.3 L1145.9,1428.7 L1148.8,1428.1 L1151.8,1427.4 L1154.7,1426.8 L1157.6,1426.2 L1160.6,1425.5 L1163.5,1424.9 L1166.4,1424.2 L1169.3,1423.5 L1172.2,1422.8 L1175.1,1422.1 L1178.0,1421.4 L1180.9,1420.7 L1183.8,1420.0 L1186.7,1419.3 L1189.6,1418.5 L1192.5,1417.8 L1195.4,1417.0 L1198.3,1416.3 L1201.2,1415.5 L1204.1,1414.7 L1207.0,1413.9 L1209.9,1413.1 L1212.7,1412.3 L1215.6,1411.5 L1218.5,1410.6 L1221.3,1409.8 L1224.2,1408.9 L1227.1,1408.1 L1229.9,1407.2 L1232.8,1406.3 L1235.6,1405.4 L1238.4,1404.5 L1241.3,1403.5 L1244.1,1402.6 L1247.0,1401.7 L1249.8,1400.7 L1252.6,1399.7 L1255.4,1398.7 L1258.2,1397.8 L1261.1,1396.7 L1263.9,1395.7 L1266.7,1394.7 L1269.5,1393.6 L1272.3,1392.6 L1275.1,1391.5 L1277.9,1390.4 L1280.6,1389.3 L1283.4,1388.2 L1286.2,1387.1 L1289.0,1386.0 L1291.7,1384.8 L1294.5,1383.7 L1297.2,1382.5 L1300.0,1381.3 L1302.7,1380.1 L1305.5,1378.9 L1308.2,1377.6 L1310.9,1376.4 L1313.7,1375.1 L1316.4,1373.9 L1319.1,1372.6 L1321.8,1371.3 L1324.6,1370.0 L1327.3,1368.7 L1330.0,1367.4 L1332.7,1366.1 L1335.4,1364.7 L1338.1,1363.4 L1340.8,1362.0 L1343.5,1360.7 L1346.2,1359.3 L1348.9,1358.0 L1351.5,1356.6 L1354.2,1355.2 L1356.9,1353.8 L1359.6,1352.5 L1362.3,1351.1 L1365.0,1349.7 L1367.7,1348.3 L1370.4,1346.9 L1373.0,1345.6 L1375.7,1344.2 L1378.4,1342.8 L1381.1,1341.4 L1383.8,1340.0 L1386.5,1338.6 L1389.2,1337.3 L1391.9,1335.9 L1394.6,1334.5 L1397.2,1333.2 L1399.9,1331.8 L1402.6,1330.5 L1405.3,1329.1 L1408.0,1327.8 L1410.8,1326.4 L1413.5,1325.1 L1416.2,1323.8 L1418.9,1322.5 L1421.6,1321.2 L1424.3,1319.9 L1427.1,1318.6 L1429.8,1317.4 L1432.5,1316.1 L1435.3,1314.9 L1438.0,1313.6 L1440.8,1312.4 L1443.5,1311.2 L1446.3,1310.0 L1449.0,1308.9 L1451.8,1307.7 L1454.6,1306.6 L1457.4,1305.4 L1460.2,1304.3 L1463.0,1303.2 L1465.8,1302.2 L1468.6,1301.1 L1471.4,1300.1 L1474.2,1299.1 L1477.0,1298.1 L1479.9,1297.1 L1482.7,1296.1 L1485.6,1295.2 L1488.4,1294.3 L1491.3,1293.4 L1494.2,1292.5 L1497.1,1291.7 L1500.0,1290.9 L1502.9,1290.1 L1505.8,1289.3 L1508.7,1288.6 L1511.6,1287.9 L1514.5,1287.2 L1517.5,1286.5 L1520.4,1285.9 L1523.4,1285.3 L1526.3,1284.7 L1529.3,1284.1 L1532.3,1283.6 L1535.2,1283.1 L1538.2,1282.6 L1541.2,1282.2 L1544.2,1281.8 L1547.2,1281.4 L1550.1,1281.1 L1553.1,1280.7 L1556.1,1280.4 L1559.1,1280.2 L1562.1,1280.0 L1565.1,1279.8 L1568.1,1279.6 L1571.1,1279.5 L1574.1,1279.4 L1577.1,1279.3 L1580.0,1279.3 L1583.0,1279.3 L1586.0,1279.3 L1589.0,1279.4 L1592.0,1279.5 L1594.9,1279.6 L1597.9,1279.8 L1600.9,1280.0 L1603.8,1280.3 L1606.8,1280.6 L1609.8,1280.9 L1612.7,1281.2 L1615.6,1281.6 L1618.6,1282.1 L1621.5,1282.5 L1624.4,1283.0 L1627.3,1283.6 L1630.2,1284.2 L1633.1,1284.8 L1636.0,1285.5 L1638.9,1286.2 L1641.8,1286.9 L1644.6,1287.7 L1647.5,1288.5 L1650.3,1289.4 L1653.2,1290.3 L1656.0,1291.3 L1658.8,1292.3 L1661.6,1293.3 L1664.4,1294.4 L1667.1,1295.5 L1669.9,1296.7 L1672.6,1297.9 L1675.4,1299.2 L1678.1,1300.4 L1680.8,1301.8 L1683.5,1303.1 L1686.2,1304.5 L1688.9,1305.9 L1691.6,1307.3 L1694.2,1308.8 L1696.9,1310.3 L1699.5,1311.8 L1702.2,1313.4 L1704.8,1314.9 L1707.4,1316.5 L1710.1,1318.1 L1712.7,1319.7 L1715.3,1321.3 L1717.9,1323.0 L1720.5,1324.6 L1723.1,1326.3 L1725.7,1327.9 L1728.3,1329.6 L1730.9,1331.3 L1733.4,1333.0 L1736.0,1334.7 L1738.6,1336.3 L1741.2,1338.0 L1743.8,1339.7 L1746.4,1341.4 L1748.9,1343.0 L1751.5,1344.7 L1754.1,1346.3 L1756.7,1348.0 L1759.3,1349.6 L1761.8,1351.2 L1764.4,1352.8 L1767.0,1354.4 L1769.6,1355.9 L1772.2,1357.5 L1774.8,1359.0 L1777.4,1360.5 L1780.0,1362.0 L1782.6,1363.5 L1785.2,1364.9 L1787.9,1366.4 L1790.5,1367.8 L1793.1,1369.2 L1795.7,1370.6 L1798.4,1372.0 L1801.0,1373.3 L1803.7,1374.7 L1806.3,1376.0 L1809.0,1377.3 L1811.6,1378.6 L1814.3,1379.9 L1817.0,1381.1 L1819.6,1382.4 L1822.3,1383.6 L1825.0,1384.8 L1827.7,1386.0 L1830.4,1387.2 L1833.1,1388.4 L1835.9,1389.5 L1838.6,1390.7 L1841.3,1391.8 L1844.1,1392.9 L1846.8,1394.0 L1849.6,1395.1 L1852.3,1396.1 L1855.1,1397.2 L1857.9,1398.2 L1860.7,1399.2 L1863.5,1400.2 L1866.3,1401.2 L1869.1,1402.2 L1872.0,1403.1 L1874.8,1404.0 L1877.6,1405.0 L1880.5,1405.9 L1883.4,1406.8 L1886.2,1407.6 L1889.1,1408.5 L1892.0,1409.3 L1894.9,1410.1 L1897.8,1410.9 L1900.7,1411.7 L1903.7,1412.5 L1906.6,1413.2 L1909.5,1413.9 L1912.5,1414.6 L1915.4,1415.3 L1918.3,1415.9 L1921.3,1416.6 L1924.3,1417.2 L1927.2,1417.7 L1930.2,1418.3 L1933.2,1418.8 L1936.1,1419.3 L1939.1,1419.8 L1942.1,1420.2 L1945.1,1420.6 L1948.1,1421.0 L1951.1,1421.4 L1954.1,1421.7 L1957.0,1422.0 L1960.0,1422.3 L1963.0,1422.5 L1966.0,1422.7 L1969.0,1422.9 L1972.0,1423.0 L1975.0,1423.1 L1978.0,1423.2 L1981.0,1423.2 L1984.0,1423.2 L1987.0,1423.2 L1990.0,1423.1 L1993.0,1423.0 L1996.0,1422.9" stroke="#993300" stroke-width="5.6"/>
<path id="c_red" d="M244.0,1298.6 L246.2,1296.2 L248.3,1293.7 L250.4,1291.3 L252.4,1289.0 L254.3,1286.6 L256.2,1284.3 L258.0,1281.9 L259.8,1279.6 L261.6,1277.3 L263.3,1275.0 L264.9,1272.7 L266.6,1270.4 L268.2,1268.1 L269.8,1265.8 L271.4,1263.5 L273.0,1261.2 L274.6,1258.9 L276.2,1256.5 L277.7,1254.1 L279.3,1251.7 L280.9,1249.3 L282.5,1246.9 L284.1,1244.4 L285.8,1241.9 L287.5,1239.3 L289.2,1236.7 L290.9,1234.1 L292.7,1231.4 L294.5,1228.7 L296.4,1225.9 L298.3,1223.1 L300.3,1220.3 L302.3,1217.6 L304.3,1214.9 L306.4,1212.2 L308.6,1209.7 L310.8,1207.4 L313.0,1205.2 L315.3,1203.3 L317.6,1201.6 L320.0,1200.1 L322.4,1199.0 L324.8,1198.2 L327.3,1197.7 L329.9,1197.6 L332.4,1197.8 L335.0,1198.2 L337.6,1198.9 L340.2,1199.9 L342.8,1201.0 L345.4,1202.3 L348.0,1203.8 L350.6,1205.4 L353.1,1207.0 L355.7,1208.8 L358.2,1210.6 L360.7,1212.4 L363.1,1214.2 L365.5,1216.1 L367.9,1218.0 L370.3,1219.9 L372.6,1221.8 L374.9,1223.8 L377.1,1225.8 L379.4,1227.8 L381.6,1229.8 L383.8,1231.9 L385.9,1233.9 L388.0,1236.0 L390.1,1238.2 L392.2,1240.3 L394.3,1242.4 L396.3,1244.6 L398.3,1246.8 L400.3,1249.0 L402.3,1251.2 L404.2,1253.5 L406.2,1255.7 L408.1,1258.0 L410.0,1260.3 L411.9,1262.6 L413.7,1264.9 L415.6,1267.3 L417.4,1269.6 L419.2,1272.0 L421.0,1274.3 L422.8,1276.7 L424.6,1279.1 L426.4,1281.5 L428.1,1283.9 L429.9,1286.3 L431.6,1288.8 L433.3,1291.2 L435.1,1293.7 L436.8,1296.1 L438.5,1298.6 L440.2,1301.0 L441.9,1303.5 L443.6,1306.0 L445.3,1308.5 L446.9,1311.0 L448.6,1313.5 L450.3,1316.0 L452.0,1318.5 L453.7,1321.0 L455.3,1323.5 L457.0,1326.0 L458.7,1328.5 L460.4,1331.0 L462.1,1333.5 L463.8,1336.1 L465.4,1338.6 L467.1,1341.1 L468.9,1343.6 L470.6,1346.1 L472.3,1348.6 L474.0,1351.1 L475.8,1353.5 L477.5,1356.0 L479.3,1358.4 L481.1,1360.9 L482.9,1363.3 L484.7,1365.7 L486.6,1368.0 L488.5,1370.4 L490.4,1372.7 L492.3,1375.0 L494.2,1377.2 L496.2,1379.4 L498.2,1381.6 L500.3,1383.8 L502.3,1385.9 L504.4,1388.0 L506.6,1390.0 L508.7,1392.0 L511.0,1393.9 L513.2,1395.8 L515.5,1397.6 L517.8,1399.4 L520.2,1401.2 L522.6,1402.9 L525.1,1404.5 L527.6,1406.1 L530.1,1407.6 L532.6,1409.1 L535.2,1410.6 L537.8,1412.0 L540.5,1413.3 L543.1,1414.6 L545.8,1415.9 L548.6,1417.1 L551.3,1418.3 L554.1,1419.4 L556.9,1420.5 L559.7,1421.5 L562.5,1422.5 L565.3,1423.4 L568.2,1424.3 L571.1,1425.2 L574.0,1426.0 L576.9,1426.7 L579.8,1427.5 L582.7,1428.1 L585.6,1428.8 L588.6,1429.4 L591.5,1429.9 L594.4,1430.5 L597.4,1430.9 L600.3,1431.4 L603.3,1431.8 L606.3,1432.1 L609.2,1432.5 L612.2,1432.8 L615.2,1433.0 L618.2,1433.3 L621.1,1433.5 L624.1,1433.7 L627.1,1433.8 L630.1,1433.9 L633.1,1434.0 L636.1,1434.1 L639.1,1434.1 L642.1,1434.1 L645.1,1434.1 L648.1,1434.1 L651.1,1434.0 L654.1,1434.0 L657.1,1433.9 L660.1,1433.8 L663.1,1433.7 L666.1,1433.5 L669.1,1433.4 L672.1,1433.2 L675.2,1433.0 L678.2,1432.8 L681.2,1432.6 L684.2,1432.5 L687.2,1432.3 L690.2,1432.1 L693.2,1432.0 L696.2,1431.8 L699.2,1431.8 L702.2,1431.7 L705.2,1431.7 L708.1,1431.8 L711.1,1431.9 L714.0,1432.1 L717.0,1432.3 L719.9,1432.7 L722.8,1433.1 L725.7,1433.8 L728.5,1434.6 L731.3,1435.5 L734.1,1436.6 L736.8,1437.8 L739.5,1439.0 L742.3,1440.2 L745.0,1441.5 L747.8,1442.7 L750.5,1443.8 L753.3,1444.8 L756.2,1445.9 L759.0,1446.8 L761.8,1447.7 L764.7,1448.6 L767.6,1449.4 L770.4,1450.2 L773.3,1450.9 L776.2,1451.6 L779.2,1452.2 L782.1,1452.8 L785.0,1453.4 L788.0,1454.0 L790.9,1454.5 L793.8,1455.0 L796.8,1455.4 L799.7,1455.9 L802.7,1456.3 L805.7,1456.7 L808.6,1457.0 L811.6,1457.4 L814.5,1457.7 L817.5,1458.0 L820.4,1458.3 L823.4,1458.5 L826.4,1458.8 L829.3,1459.0 L832.3,1459.2 L835.3,1459.4 L838.2,1459.6 L841.2,1459.7 L844.2,1459.8 L847.1,1460.0 L850.1,1460.0 L853.1,1460.1 L856.0,1460.2 L859.0,1460.2 L862.0,1460.3 L865.0,1460.3 L867.9,1460.3 L870.9,1460.3 L873.9,1460.2 L876.9,1460.2 L879.8,1460.1 L882.8,1460.0 L885.8,1460.0 L888.8,1459.9 L891.8,1459.7 L894.7,1459.6 L897.7,1459.5 L900.7,1459.3 L903.7,1459.2 L906.7,1459.0 L909.6,1458.8 L912.6,1458.6 L915.6,1458.4 L918.6,1458.2 L921.6,1458.0 L924.6,1457.8 L927.6,1457.6 L930.6,1457.3 L933.5,1457.1 L936.5,1456.8 L939.5,1456.5 L942.5,1456.3 L945.5,1456.0 L948.5,1455.7 L951.5,1455.4 L954.5,1455.1 L957.5,1454.8 L960.5,1454.5 L963.5,1454.2 L966.4,1453.9 L969.4,1453.5 L972.4,1453.2 L975.4,1452.9 L978.4,1452.5 L981.4,1452.2 L984.4,1451.9 L987.4,1451.5 L990.4,1451.2 L993.4,1450.9 L996.4,1450.5 L999.4,1450.2 L1002.4,1449.8 L1005.4,1449.5 L1008.4,1449.2 L1011.4,1448.8 L1014.4,1448.5 L1017.4,1448.1 L1020.4,1447.8 L1023.4,1447.5 L1026.4,1447.1 L1029.4,1446.8 L1032.4,1446.4 L1035.4,1446.1 L1038.4,1445.8 L1041.3,1445.4 L1044.3,1445.1 L1047.3,1444.7 L1050.3,1444.4 L1053.3,1444.1 L1056.3,1443.7 L1059.3,1443.4 L1062.3,1443.0 L1065.3,1442.7 L1068.3,1442.3 L1071.3,1441.9 L1074.3,1441.6 L1077.2,1441.2 L1080.2,1440.8 L1083.2,1440.5 L1086.2,1440.1 L1089.2,1439.7 L1092.2,1439.3 L1095.1,1438.9 L1098.1,1438.5 L1101.1,1438.1 L1104.1,1437.7 L1107.0,1437.3 L1110.0,1436.9 L1113.0,1436.5 L1115.9,1436.0 L1118.9,1435.6 L1121.9,1435.2 L1124.8,1434.7 L1127.8,1434.3 L1130.7,1433.8 L1133.7,1433.3 L1136.6,1432.8 L1139.6,1432.4 L1142.5,1431.9 L1145.5,1431.4 L1148.4,1430.9 L1151.3,1430.3 L1154.3,1429.8 L1157.2,1429.3 L1160.1,1428.7 L1163.1,1428.2 L1166.0,1427.6 L1168.9,1427.0 L1171.8,1426.5 L1174.8,1425.9 L1177.7,1425.3 L1180.6,1424.7 L1183.5,1424.0 L1186.4,1423.4 L1189.3,1422.7 L1192.2,1422.1 L1195.1,1421.4 L1198.0,1420.7 L1200.8,1420.0 L1203.7,1419.3 L1206.6,1418.6 L1209.5,1417.9 L1212.3,1417.1 L1215.2,1416.4 L1218.1,1415.6 L1220.9,1414.8 L1223.8,1414.0 L1226.6,1413.2 L1229.5,1412.4 L1232.3,1411.6 L1235.1,1410.7 L1238.0,1409.8 L1240.8,1409.0 L1243.6,1408.1 L1246.5,1407.2 L1249.3,1406.2 L1252.1,1405.3 L1254.9,1404.4 L1257.7,1403.4 L1260.5,1402.4 L1263.3,1401.5 L1266.1,1400.5 L1268.9,1399.5 L1271.7,1398.5 L1274.5,1397.5 L1277.3,1396.4 L1280.1,1395.4 L1282.8,1394.3 L1285.6,1393.3 L1288.4,1392.2 L1291.2,1391.1 L1293.9,1390.1 L1296.7,1389.0 L1299.5,1387.9 L1302.3,1386.8 L1305.0,1385.7 L1307.8,1384.6 L1310.6,1383.4 L1313.3,1382.3 L1316.1,1381.2 L1318.9,1380.0 L1321.6,1378.9 L1324.4,1377.7 L1327.2,1376.6 L1329.9,1375.4 L1332.7,1374.3 L1335.4,1373.1 L1338.2,1371.9 L1341.0,1370.8 L1343.7,1369.6 L1346.5,1368.4 L1349.3,1367.3 L1352.0,1366.1 L1354.8,1364.9 L1357.6,1363.7 L1360.3,1362.5 L1363.1,1361.4 L1365.9,1360.2 L1368.6,1359.0 L1371.4,1357.8 L1374.2,1356.6 L1377.0,1355.4 L1379.7,1354.3 L1382.5,1353.1 L1385.3,1351.9 L1388.1,1350.7 L1390.9,1349.6 L1393.7,1348.4 L1396.5,1347.2 L1399.3,1346.1 L1402.1,1344.9 L1404.9,1343.7 L1407.7,1342.6 L1410.5,1341.4 L1413.3,1340.3 L1416.1,1339.2 L1418.9,1338.0 L1421.7,1336.9 L1424.5,1335.8 L1427.4,1334.7 L1430.2,1333.6 L1433.0,1332.5 L1435.9,1331.4 L1438.7,1330.3 L1441.6,1329.2 L1444.4,1328.1 L1447.3,1327.1 L1450.2,1326.0 L1453.0,1325.0 L1455.9,1323.9 L1458.8,1322.9 L1461.6,1321.9 L1464.5,1320.9 L1467.4,1319.9 L1470.3,1318.9 L1473.2,1318.0 L1476.1,1317.0 L1479.0,1316.1 L1481.9,1315.2 L1484.8,1314.3 L1487.7,1313.4 L1490.6,1312.5 L1493.5,1311.7 L1496.4,1310.9 L1499.4,1310.0 L1502.3,1309.3 L1505.2,1308.5 L1508.1,1307.7 L1511.0,1307.0 L1514.0,1306.3 L1516.9,1305.6 L1519.8,1305.0 L1522.7,1304.4 L1525.7,1303.7 L1528.6,1303.2 L1531.5,1302.6 L1534.5,1302.1 L1537.4,1301.6 L1540.3,1301.1 L1543.3,1300.7 L1546.2,1300.2 L1549.1,1299.9 L1552.1,1299.5 L1555.0,1299.2 L1557.9,1298.9 L1560.9,1298.6 L1563.8,1298.4 L1566.7,1298.2 L1569.7,1298.0 L1572.6,1297.9 L1575.5,1297.8 L1578.4,1297.7 L1581.4,1297.7 L1584.3,1297.7 L1587.2,1297.8 L1590.1,1297.9 L1593.0,1298.0 L1596.0,1298.2 L1598.9,1298.4 L1601.8,1298.6 L1604.7,1298.9 L1607.6,1299.3 L1610.5,1299.6 L1613.4,1300.0 L1616.3,1300.5 L1619.2,1301.0 L1622.1,1301.5 L1625.0,1302.1 L1627.9,1302.8 L1630.7,1303.4 L1633.6,1304.2 L1636.5,1304.9 L1639.4,1305.7 L1642.2,1306.5 L1645.1,1307.4 L1648.0,1308.3 L1650.8,1309.2 L1653.7,1310.1 L1656.5,1311.1 L1659.4,1312.1 L1662.2,1313.2 L1665.0,1314.3 L1667.8,1315.4 L1670.7,1316.5 L1673.5,1317.6 L1676.3,1318.8 L1679.1,1320.0 L1681.9,1321.2 L1684.7,1322.4 L1687.5,1323.7 L1690.3,1325.0 L1693.1,1326.3 L1695.8,1327.6 L1698.6,1328.9 L1701.4,1330.2 L1704.1,1331.6 L1706.9,1332.9 L1709.6,1334.3 L1712.3,1335.7 L1715.1,1337.1 L1717.8,1338.5 L1720.5,1339.9 L1723.2,1341.3 L1725.9,1342.7 L1728.6,1344.1 L1731.3,1345.5 L1734.0,1346.9 L1736.6,1348.4 L1739.3,1349.8 L1742.0,1351.2 L1744.6,1352.6 L1747.3,1354.1 L1749.9,1355.5 L1752.6,1356.9 L1755.2,1358.3 L1757.9,1359.8 L1760.5,1361.2 L1763.1,1362.6 L1765.8,1364.0 L1768.4,1365.4 L1771.0,1366.8 L1773.7,1368.2 L1776.3,1369.6 L1778.9,1371.0 L1781.6,1372.4 L1784.2,1373.8 L1786.8,1375.1 L1789.5,1376.5 L1792.1,1377.8 L1794.8,1379.2 L1797.4,1380.5 L1800.1,1381.8 L1802.7,1383.2 L1805.4,1384.5 L1808.0,1385.7 L1810.7,1387.0 L1813.4,1388.3 L1816.0,1389.5 L1818.7,1390.8 L1821.4,1392.0 L1824.1,1393.2 L1826.8,1394.4 L1829.5,1395.6 L1832.2,1396.8 L1834.9,1397.9 L1837.6,1399.0 L1840.4,1400.1 L1843.1,1401.2 L1845.9,1402.3 L1848.6,1403.4 L1851.4,1404.4 L1854.2,1405.4 L1857.0,1406.4 L1859.8,1407.4 L1862.6,1408.3 L1865.5,1409.3 L1868.3,1410.2 L1871.2,1411.1 L1874.0,1411.9 L1876.9,1412.8 L1879.8,1413.6 L1882.7,1414.4 L1885.6,1415.1 L1888.5,1415.9 L1891.5,1416.6 L1894.4,1417.3 L1897.4,1418.0 L1900.3,1418.6 L1903.3,1419.2 L1906.3,1419.8 L1909.3,1420.4 L1912.2,1421.0 L1915.2,1421.5 L1918.2,1422.0 L1921.2,1422.5 L1924.2,1423.0 L1927.3,1423.4 L1930.3,1423.8 L1933.3,1424.2 L1936.3,1424.6 L1939.3,1425.0 L1942.3,1425.3 L1945.3,1425.6 L1948.3,1425.9 L1951.4,1426.2 L1954.4,1426.4 L1957.4,1426.6 L1960.4,1426.8 L1963.4,1427.0 L1966.4,1427.1 L1969.4,1427.2 L1972.4,1427.4 L1975.3,1427.4 L1978.3,1427.5 L1981.3,1427.5 L1984.2,1427.6 L1987.2,1427.5 L1990.1,1427.5 L1993.1,1427.5 L1996.0,1427.4" stroke="#ff0000" stroke-width="6.0"/>
<path id="c_black" d="M244.0,1436.0 L246.7,1434.8 L249.5,1433.5 L252.3,1432.3 L255.0,1431.0 L257.8,1429.8 L260.6,1428.6 L263.4,1427.4 L266.3,1426.2 L269.1,1425.0 L271.9,1423.8 L274.8,1422.7 L277.6,1421.6 L280.5,1420.5 L283.4,1419.5 L286.2,1418.5 L289.1,1417.5 L292.0,1416.5 L294.9,1415.6 L297.8,1414.8 L300.7,1414.0 L303.6,1413.2 L306.5,1412.5 L309.4,1411.8 L312.4,1411.2 L315.3,1410.7 L318.2,1410.2 L321.1,1409.8 L324.0,1409.5 L326.9,1409.2 L329.9,1409.0 L332.8,1408.9 L335.7,1408.9 L338.6,1408.9 L341.5,1409.0 L344.4,1409.2 L347.3,1409.5 L350.2,1409.8 L353.1,1410.2 L356.0,1410.7 L358.9,1411.2 L361.8,1411.8 L364.7,1412.5 L367.5,1413.1 L370.4,1413.9 L373.3,1414.6 L376.2,1415.4 L379.1,1416.3 L381.9,1417.1 L384.8,1418.0 L387.7,1419.0 L390.6,1419.9 L393.4,1420.8 L396.3,1421.8 L399.2,1422.7 L402.0,1423.7 L404.9,1424.7 L407.8,1425.6 L410.6,1426.6 L413.5,1427.6 L416.4,1428.5 L419.3,1429.5 L422.1,1430.5 L425.0,1431.4 L427.9,1432.4 L430.7,1433.3 L433.6,1434.3 L436.5,1435.2 L439.3,1436.2 L442.2,1437.1 L445.1,1438.1 L447.9,1439.0 L450.8,1439.9 L453.7,1440.8 L456.6,1441.7 L459.4,1442.6 L462.3,1443.5 L465.2,1444.4 L468.1,1445.3 L471.0,1446.1 L473.8,1447.0 L476.7,1447.8 L479.6,1448.6 L482.5,1449.4 L485.4,1450.2 L488.3,1451.0 L491.2,1451.8 L494.1,1452.6 L497.0,1453.3 L499.9,1454.0 L502.8,1454.7 L505.7,1455.4 L508.6,1456.1 L511.5,1456.8 L514.4,1457.4 L517.3,1458.0 L520.2,1458.6 L523.2,1459.2 L526.1,1459.7 L529.0,1460.3 L531.9,1460.8 L534.9,1461.3 L537.8,1461.8 L540.8,1462.2 L543.7,1462.6 L546.7,1463.0 L549.6,1463.4 L552.6,1463.8 L555.5,1464.1 L558.5,1464.4 L561.4,1464.7 L564.4,1465.0 L567.4,1465.2 L570.3,1465.4 L573.3,1465.7 L576.3,1465.9 L579.3,1466.0 L582.3,1466.2 L585.2,1466.3 L588.2,1466.5 L591.2,1466.6 L594.2,1466.7 L597.2,1466.8 L600.2,1466.9 L603.2,1467.0 L606.2,1467.0 L609.2,1467.1 L612.2,1467.1 L615.2,1467.2 L618.2,1467.2 L621.2,1467.2 L624.2,1467.2 L627.2,1467.2 L630.2,1467.2 L633.2,1467.2 L636.2,1467.2 L639.2,1467.2 L642.2,1467.2 L645.2,1467.1 L648.3,1467.1 L651.3,1467.1 L654.3,1467.1 L657.3,1467.0 L660.3,1467.0 L663.3,1467.0 L666.3,1467.0 L669.3,1467.0 L672.3,1467.0 L675.3,1466.9 L678.4,1466.9 L681.4,1466.9 L684.4,1466.9 L687.4,1467.0 L690.4,1467.0 L693.4,1467.0 L696.4,1467.0 L699.4,1467.1 L702.4,1467.1 L705.4,1467.2 L708.4,1467.3 L711.4,1467.4 L714.4,1467.5 L717.4,1467.6 L720.4,1467.7 L723.4,1467.8 L726.4,1468.0 L729.4,1468.2 L732.3,1468.4 L735.3,1468.6 L738.3,1468.8 L741.3,1469.0 L744.3,1469.3 L747.2,1469.6 L750.2,1469.9 L753.2,1470.2 L756.1,1470.5 L759.1,1470.8 L762.1,1471.2 L765.0,1471.5 L768.0,1471.9 L771.0,1472.3 L773.9,1472.6 L776.9,1473.0 L779.9,1473.3 L782.8,1473.7 L785.8,1474.0 L788.7,1474.4 L791.7,1474.7 L794.7,1475.0 L797.7,1475.3 L800.6,1475.6 L803.6,1475.8 L806.6,1476.0 L809.6,1476.2 L812.6,1476.4 L815.5,1476.6 L818.5,1476.8 L821.5,1476.9 L824.5,1477.0 L827.5,1477.1 L830.5,1477.2 L833.5,1477.3 L836.5,1477.4 L839.5,1477.4 L842.5,1477.5 L845.5,1477.5 L848.5,1477.5 L851.5,1477.5 L854.5,1477.5 L857.5,1477.5 L860.5,1477.5 L863.5,1477.5 L866.5,1477.5 L869.5,1477.5 L872.6,1477.4 L875.6,1477.4 L878.6,1477.4 L881.6,1477.3 L884.6,1477.3 L887.6,1477.3 L890.6,1477.2 L893.6,1477.2 L896.6,1477.2 L899.6,1477.1 L902.6,1477.1 L905.6,1477.1 L908.6,1477.1 L911.6,1477.0 L914.6,1477.0 L917.6,1477.0 L920.6,1477.0 L923.6,1477.0 L926.6,1477.0 L929.6,1477.0 L932.6,1477.0 L935.6,1477.0 L938.6,1477.0 L941.6,1477.0 L944.6,1477.0 L947.6,1477.0 L950.6,1477.0 L953.6,1477.0 L956.6,1477.0 L959.6,1477.0 L962.6,1477.1 L965.6,1477.1 L968.6,1477.1 L971.6,1477.0 L974.6,1477.0 L977.6,1477.0 L980.6,1477.0 L983.6,1477.0 L986.6,1477.0 L989.5,1477.0 L992.5,1477.0 L995.5,1476.9 L998.5,1476.9 L1001.5,1476.9 L1004.5,1476.9 L1007.5,1476.8 L1010.5,1476.8 L1013.5,1476.7 L1016.5,1476.7 L1019.5,1476.6 L1022.5,1476.5 L1025.5,1476.5 L1028.5,1476.4 L1031.5,1476.3 L1034.5,1476.3 L1037.5,1476.2 L1040.5,1476.1 L1043.5,1476.0 L1046.5,1475.9 L1049.5,1475.8 L1052.5,1475.7 L1055.4,1475.6 L1058.4,1475.5 L1061.4,1475.4 L1064.4,1475.3 L1067.4,1475.2 L1070.4,1475.1 L1073.4,1474.9 L1076.4,1474.8 L1079.4,1474.7 L1082.4,1474.5 L1085.4,1474.4 L1088.4,1474.2 L1091.4,1474.1 L1094.4,1473.9 L1097.4,1473.8 L1100.4,1473.6 L1103.4,1473.5 L1106.4,1473.3 L1109.4,1473.1 L1112.4,1473.0 L1115.4,1472.8 L1118.4,1472.6 L1121.3,1472.4 L1124.3,1472.3 L1127.3,1472.1 L1130.3,1471.9 L1133.3,1471.7 L1136.3,1471.5 L1139.3,1471.3 L1142.3,1471.1 L1145.3,1470.9 L1148.3,1470.7 L1151.3,1470.4 L1154.3,1470.2 L1157.3,1470.0 L1160.3,1469.8 L1163.2,1469.6 L1166.2,1469.3 L1169.2,1469.1 L1172.2,1468.9 L1175.2,1468.6 L1178.2,1468.4 L1181.2,1468.2 L1184.2,1467.9 L1187.2,1467.7 L1190.2,1467.4 L1193.1,1467.2 L1196.1,1466.9 L1199.1,1466.6 L1202.1,1466.4 L1205.1,1466.1 L1208.1,1465.9 L1211.1,1465.6 L1214.0,1465.3 L1217.0,1465.0 L1220.0,1464.8 L1223.0,1464.5 L1226.0,1464.2 L1229.0,1463.9 L1231.9,1463.6 L1234.9,1463.3 L1237.9,1463.0 L1240.9,1462.7 L1243.9,1462.4 L1246.9,1462.2 L1249.8,1461.8 L1252.8,1461.5 L1255.8,1461.2 L1258.8,1460.9 L1261.7,1460.6 L1264.7,1460.3 L1267.7,1460.0 L1270.7,1459.7 L1273.6,1459.4 L1276.6,1459.0 L1279.6,1458.7 L1282.6,1458.4 L1285.6,1458.1 L1288.5,1457.8 L1291.5,1457.4 L1294.5,1457.1 L1297.5,1456.8 L1300.4,1456.5 L1303.4,1456.1 L1306.4,1455.8 L1309.3,1455.5 L1312.3,1455.1 L1315.3,1454.8 L1318.3,1454.5 L1321.2,1454.1 L1324.2,1453.8 L1327.2,1453.5 L1330.2,1453.1 L1333.1,1452.8 L1336.1,1452.5 L1339.1,1452.1 L1342.1,1451.8 L1345.1,1451.5 L1348.0,1451.1 L1351.0,1450.8 L1354.0,1450.5 L1357.0,1450.1 L1359.9,1449.8 L1362.9,1449.5 L1365.9,1449.1 L1368.9,1448.8 L1371.9,1448.5 L1374.8,1448.1 L1377.8,1447.8 L1380.8,1447.5 L1383.8,1447.2 L1386.8,1446.8 L1389.7,1446.5 L1392.7,1446.2 L1395.7,1445.9 L1398.7,1445.6 L1401.7,1445.2 L1404.7,1444.9 L1407.6,1444.6 L1410.6,1444.3 L1413.6,1444.0 L1416.6,1443.7 L1419.6,1443.4 L1422.6,1443.1 L1425.6,1442.8 L1428.6,1442.5 L1431.5,1442.2 L1434.5,1441.9 L1437.5,1441.7 L1440.5,1441.4 L1443.5,1441.1 L1446.5,1440.8 L1449.5,1440.6 L1452.5,1440.3 L1455.5,1440.0 L1458.5,1439.8 L1461.5,1439.5 L1464.4,1439.3 L1467.4,1439.0 L1470.4,1438.8 L1473.4,1438.6 L1476.4,1438.3 L1479.4,1438.1 L1482.4,1437.9 L1485.4,1437.7 L1488.4,1437.5 L1491.4,1437.3 L1494.4,1437.1 L1497.4,1436.9 L1500.4,1436.7 L1503.3,1436.5 L1506.3,1436.3 L1509.3,1436.2 L1512.3,1436.0 L1515.3,1435.9 L1518.3,1435.7 L1521.3,1435.6 L1524.3,1435.4 L1527.3,1435.3 L1530.3,1435.2 L1533.3,1435.1 L1536.3,1435.0 L1539.3,1434.9 L1542.3,1434.8 L1545.3,1434.7 L1548.2,1434.6 L1551.2,1434.6 L1554.2,1434.5 L1557.2,1434.5 L1560.2,1434.4 L1563.2,1434.4 L1566.2,1434.4 L1569.2,1434.4 L1572.2,1434.3 L1575.2,1434.3 L1578.2,1434.4 L1581.2,1434.4 L1584.1,1434.4 L1587.1,1434.4 L1590.1,1434.5 L1593.1,1434.6 L1596.1,1434.6 L1599.1,1434.7 L1602.1,1434.8 L1605.1,1434.9 L1608.0,1435.0 L1611.0,1435.1 L1614.0,1435.2 L1617.0,1435.4 L1620.0,1435.5 L1623.0,1435.7 L1626.0,1435.9 L1628.9,1436.0 L1631.9,1436.2 L1634.9,1436.4 L1637.9,1436.7 L1640.9,1436.9 L1643.9,1437.1 L1646.8,1437.4 L1649.8,1437.6 L1652.8,1437.9 L1655.8,1438.1 L1658.8,1438.4 L1661.7,1438.7 L1664.7,1439.0 L1667.7,1439.3 L1670.7,1439.6 L1673.7,1439.9 L1676.6,1440.3 L1679.6,1440.6 L1682.6,1441.0 L1685.6,1441.3 L1688.5,1441.6 L1691.5,1442.0 L1694.5,1442.4 L1697.5,1442.7 L1700.5,1443.1 L1703.4,1443.5 L1706.4,1443.9 L1709.4,1444.3 L1712.4,1444.6 L1715.3,1445.0 L1718.3,1445.4 L1721.3,1445.8 L1724.3,1446.2 L1727.2,1446.6 L1730.2,1447.1 L1733.2,1447.5 L1736.2,1447.9 L1739.1,1448.3 L1742.1,1448.7 L1745.1,1449.1 L1748.1,1449.5 L1751.0,1450.0 L1754.0,1450.4 L1757.0,1450.8 L1760.0,1451.2 L1762.9,1451.6 L1765.9,1452.0 L1768.9,1452.4 L1771.9,1452.9 L1774.8,1453.3 L1777.8,1453.7 L1780.8,1454.1 L1783.8,1454.5 L1786.7,1454.9 L1789.7,1455.3 L1792.7,1455.7 L1795.7,1456.1 L1798.7,1456.4 L1801.6,1456.8 L1804.6,1457.2 L1807.6,1457.6 L1810.6,1458.0 L1813.5,1458.3 L1816.5,1458.7 L1819.5,1459.0 L1822.5,1459.4 L1825.5,1459.7 L1828.4,1460.0 L1831.4,1460.4 L1834.4,1460.7 L1837.4,1461.0 L1840.4,1461.3 L1843.4,1461.6 L1846.3,1461.9 L1849.3,1462.2 L1852.3,1462.4 L1855.3,1462.7 L1858.3,1463.0 L1861.3,1463.2 L1864.2,1463.4 L1867.2,1463.7 L1870.2,1463.9 L1873.2,1464.1 L1876.2,1464.3 L1879.2,1464.5 L1882.2,1464.6 L1885.2,1464.8 L1888.2,1465.0 L1891.1,1465.1 L1894.1,1465.2 L1897.1,1465.4 L1900.1,1465.5 L1903.1,1465.6 L1906.1,1465.7 L1909.1,1465.8 L1912.1,1465.9 L1915.1,1466.0 L1918.1,1466.1 L1921.1,1466.2 L1924.1,1466.2 L1927.1,1466.3 L1930.1,1466.4 L1933.1,1466.4 L1936.1,1466.5 L1939.0,1466.6 L1942.0,1466.6 L1945.0,1466.7 L1948.0,1466.7 L1951.0,1466.8 L1954.0,1466.8 L1957.0,1466.8 L1960.0,1466.9 L1963.0,1466.9 L1966.0,1467.0 L1969.0,1467.0 L1972.0,1467.1 L1975.0,1467.1 L1978.0,1467.2 L1981.0,1467.2 L1984.0,1467.3 L1987.0,1467.3 L1990.0,1467.4 L1993.0,1467.4 L1996.0,1467.5" stroke="#000000" stroke-width="5.4"/>
</g>
<g stroke="#000" stroke-width="7.2" fill="none" stroke-linecap="square">
<rect x="244.0" y="69.0" width="1754.0" height="1410.0"/>
<line x1="244.0" y1="1479.0" x2="244.0" y2="1511.0" stroke-linecap="butt"/>
<line x1="244.0" y1="1479.0" x2="212.0" y2="1479.0" stroke-linecap="butt"/>
<line x1="463.2" y1="1479.0" x2="463.2" y2="1511.0" stroke-linecap="butt"/>
<line x1="244.0" y1="1302.8" x2="212.0" y2="1302.8" stroke-linecap="butt"/>
<line x1="682.5" y1="1479.0" x2="682.5" y2="1511.0" stroke-linecap="butt"/>
<line x1="244.0" y1="1126.5" x2="212.0" y2="1126.5" stroke-linecap="butt"/>
<line x1="901.8" y1="1479.0" x2="901.8" y2="1511.0" stroke-linecap="butt"/>
<line x1="244.0" y1="950.2" x2="212.0" y2="950.2" stroke-linecap="butt"/>
<line x1="1121.0" y1="1479.0" x2="1121.0" y2="1511.0" stroke-linecap="butt"/>
<line x1="244.0" y1="774.0" x2="212.0" y2="774.0" stroke-linecap="butt"/>
<line x1="1340.2" y1="1479.0" x2="1340.2" y2="1511.0" stroke-linecap="butt"/>
<line x1="244.0" y1="597.8" x2="212.0" y2="597.8" stroke-linecap="butt"/>
<line x1="1559.5" y1="1479.0" x2="1559.5" y2="1511.0" stroke-linecap="butt"/>
<line x1="244.0" y1="421.5" x2="212.0" y2="421.5" stroke-linecap="butt"/>
<line x1="1778.8" y1="1479.0" x2="1778.8" y2="1511.0" stroke-linecap="butt"/>
<line x1="244.0" y1="245.2" x2="212.0" y2="245.2" stroke-linecap="butt"/>
<line x1="1998.0" y1="1479.0" x2="1998.0" y2="1511.0" stroke-linecap="butt"/>
<line x1="244.0" y1="69.0" x2="212.0" y2="69.0" stroke-linecap="butt"/>
</g>
<text id="yt0" transform="translate(197.40,1501.37) scale(1.0011,1.0531)" font-size="74" text-anchor="end">0.0</text>
<text id="yt1" transform="translate(197.40,1325.12) scale(1.0011,1.0531)" font-size="74" text-anchor="end">0.2</text>
<text id="yt2" transform="translate(197.40,1148.87) scale(1.0011,1.0531)" font-size="74" text-anchor="end">0.4</text>
<text id="yt3" transform="translate(197.40,972.62) scale(1.0011,1.0531)" font-size="74" text-anchor="end">0.6</text>
<text id="yt4" transform="translate(197.40,796.37) scale(1.0011,1.0531)" font-size="74" text-anchor="end">0.8</text>
<text id="yt5" transform="translate(197.40,620.12) scale(1.0011,1.0531)" font-size="74" text-anchor="end">1.0</text>
<text id="yt6" transform="translate(197.40,443.87) scale(1.0011,1.0531)" font-size="74" text-anchor="end">1.2</text>
<text id="yt7" transform="translate(197.40,267.62) scale(1.0011,1.0531)" font-size="74" text-anchor="end">1.4</text>
<text id="yt8" transform="translate(197.40,91.37) scale(1.0011,1.0531)" font-size="74" text-anchor="end">1.6</text>
<text id="xt0" transform="translate(242.40,1583.47) scale(0.9600,1.0294)" font-size="77" text-anchor="middle">350</text>
<text id="xt1" transform="translate(461.65,1583.47) scale(0.9600,1.0294)" font-size="77" text-anchor="middle">400</text>
<text id="xt2" transform="translate(680.90,1583.47) scale(0.9600,1.0294)" font-size="77" text-anchor="middle">450</text>
<text id="xt3" transform="translate(900.15,1583.47) scale(0.9600,1.0294)" font-size="77" text-anchor="middle">500</text>
<text id="xt4" transform="translate(1119.40,1583.47) scale(0.9600,1.0294)" font-size="77" text-anchor="middle">550</text>
<text id="xt5" transform="translate(1338.65,1583.47) scale(0.9600,1.0294)" font-size="77" text-anchor="middle">600</text>
<text id="xt6" transform="translate(1557.90,1583.47) scale(0.9600,1.0294)" font-size="77" text-anchor="middle">650</text>
<text id="xt7" transform="translate(1777.15,1583.47) scale(0.9600,1.0294)" font-size="77" text-anchor="middle">700</text>
<text id="xt8" transform="translate(1996.40,1583.47) scale(0.9600,1.0294)" font-size="77" text-anchor="middle">750</text>
<text id="xtitle" transform="translate(821.99,1675.23) scale(1.0120,0.9863)" font-size="80">Wavelength (nm)</text>
<g transform="translate(72.5,934.4) rotate(-90)"><text id="ytitle" transform="translate(-0.38,0.01) scale(0.9602,0.9966)" font-size="83">Absorbance</text></g>
<line x1="1418.5" y1="134.7" x2="1496" y2="134.7" stroke="#0000b0" stroke-width="7" stroke-linecap="round"/>
<text id="lg0" transform="translate(1507.86,146.60) scale(0.9397,1.0000)"><tspan font-size="53" dy="0">Au</tspan><tspan font-size="32" dy="16.4">1</tspan><tspan font-size="53" dy="-16.4">Cu</tspan><tspan font-size="32" dy="16.4">2</tspan><tspan font-size="53" dy="-16.4">+TMB+H</tspan><tspan font-size="32" dy="16.4">2</tspan><tspan font-size="53" dy="-16.4">O</tspan><tspan font-size="32" dy="16.4">2</tspan></text>
<line x1="1418.5" y1="210.7" x2="1496" y2="210.7" stroke="#ff00ff" stroke-width="7" stroke-linecap="round"/>
<text id="lg1" transform="translate(1507.86,222.60) scale(0.9386,1.0000)"><tspan font-size="53" dy="0">Au</tspan><tspan font-size="32" dy="16.4">1</tspan><tspan font-size="53" dy="-16.4">Cu</tspan><tspan font-size="32" dy="16.4">1</tspan><tspan font-size="53" dy="-16.4">+TMB+H</tspan><tspan font-size="32" dy="16.4">2</tspan><tspan font-size="53" dy="-16.4">O</tspan><tspan font-size="32" dy="16.4">2</tspan></text>
<line x1="1418.5" y1="286.7" x2="1496" y2="286.7" stroke="#008000" stroke-width="7" stroke-linecap="round"/>
<text id="lg2" transform="translate(1507.86,298.60) scale(0.9386,1.0000)"><tspan font-size="53" dy="0">Au</tspan><tspan font-size="32" dy="16.4">1</tspan><tspan font-size="53" dy="-16.4">Cu</tspan><tspan font-size="32" dy="16.4">0.5</tspan><tspan font-size="53" dy="-16.4">+TMB+H</tspan><tspan font-size="32" dy="16.4">2</tspan><tspan font-size="53" dy="-16.4">O</tspan><tspan font-size="32" dy="16.4">2</tspan></text>
<line x1="1418.5" y1="362.7" x2="1496" y2="362.7" stroke="#993300" stroke-width="7" stroke-linecap="round"/>
<text id="lg3" transform="translate(1507.86,374.60) scale(0.9386,1.0000)"><tspan font-size="53" dy="0">Au</tspan><tspan font-size="32" dy="16.4">1</tspan><tspan font-size="53" dy="-16.4">Cu</tspan><tspan font-size="32" dy="16.4">0.2</tspan><tspan font-size="53" dy="-16.4">+TMB+H</tspan><tspan font-size="32" dy="16.4">2</tspan><tspan font-size="53" dy="-16.4">O</tspan><tspan font-size="32" dy="16.4">2</tspan></text>
<line x1="1418.5" y1="438.7" x2="1496" y2="438.7" stroke="#ff0000" stroke-width="7" stroke-linecap="round"/>
<text id="lg4" transform="translate(1507.86,450.60) scale(0.9386,1.0000)"><tspan font-size="53" dy="0">Au</tspan><tspan font-size="32" dy="16.4">1</tspan><tspan font-size="53" dy="-16.4">Cu</tspan><tspan font-size="32" dy="16.4">0.1</tspan><tspan font-size="53" dy="-16.4">+TMB+H</tspan><tspan font-size="32" dy="16.4">2</tspan><tspan font-size="53" dy="-16.4">O</tspan><tspan font-size="32" dy="16.4">2</tspan></text>
<line x1="1418.5" y1="514.7" x2="1496" y2="514.7" stroke="#000000" stroke-width="7" stroke-linecap="round"/>
<text id="lg5" transform="translate(1507.16,526.02) scale(0.9437,1.0353)"><tspan font-size="53" dy="0">TMB+H</tspan><tspan font-size="32" dy="16.4">2</tspan><tspan font-size="53" dy="-16.4">O</tspan><tspan font-size="32" dy="16.4">2</tspan></text>
</svg></body></html>
